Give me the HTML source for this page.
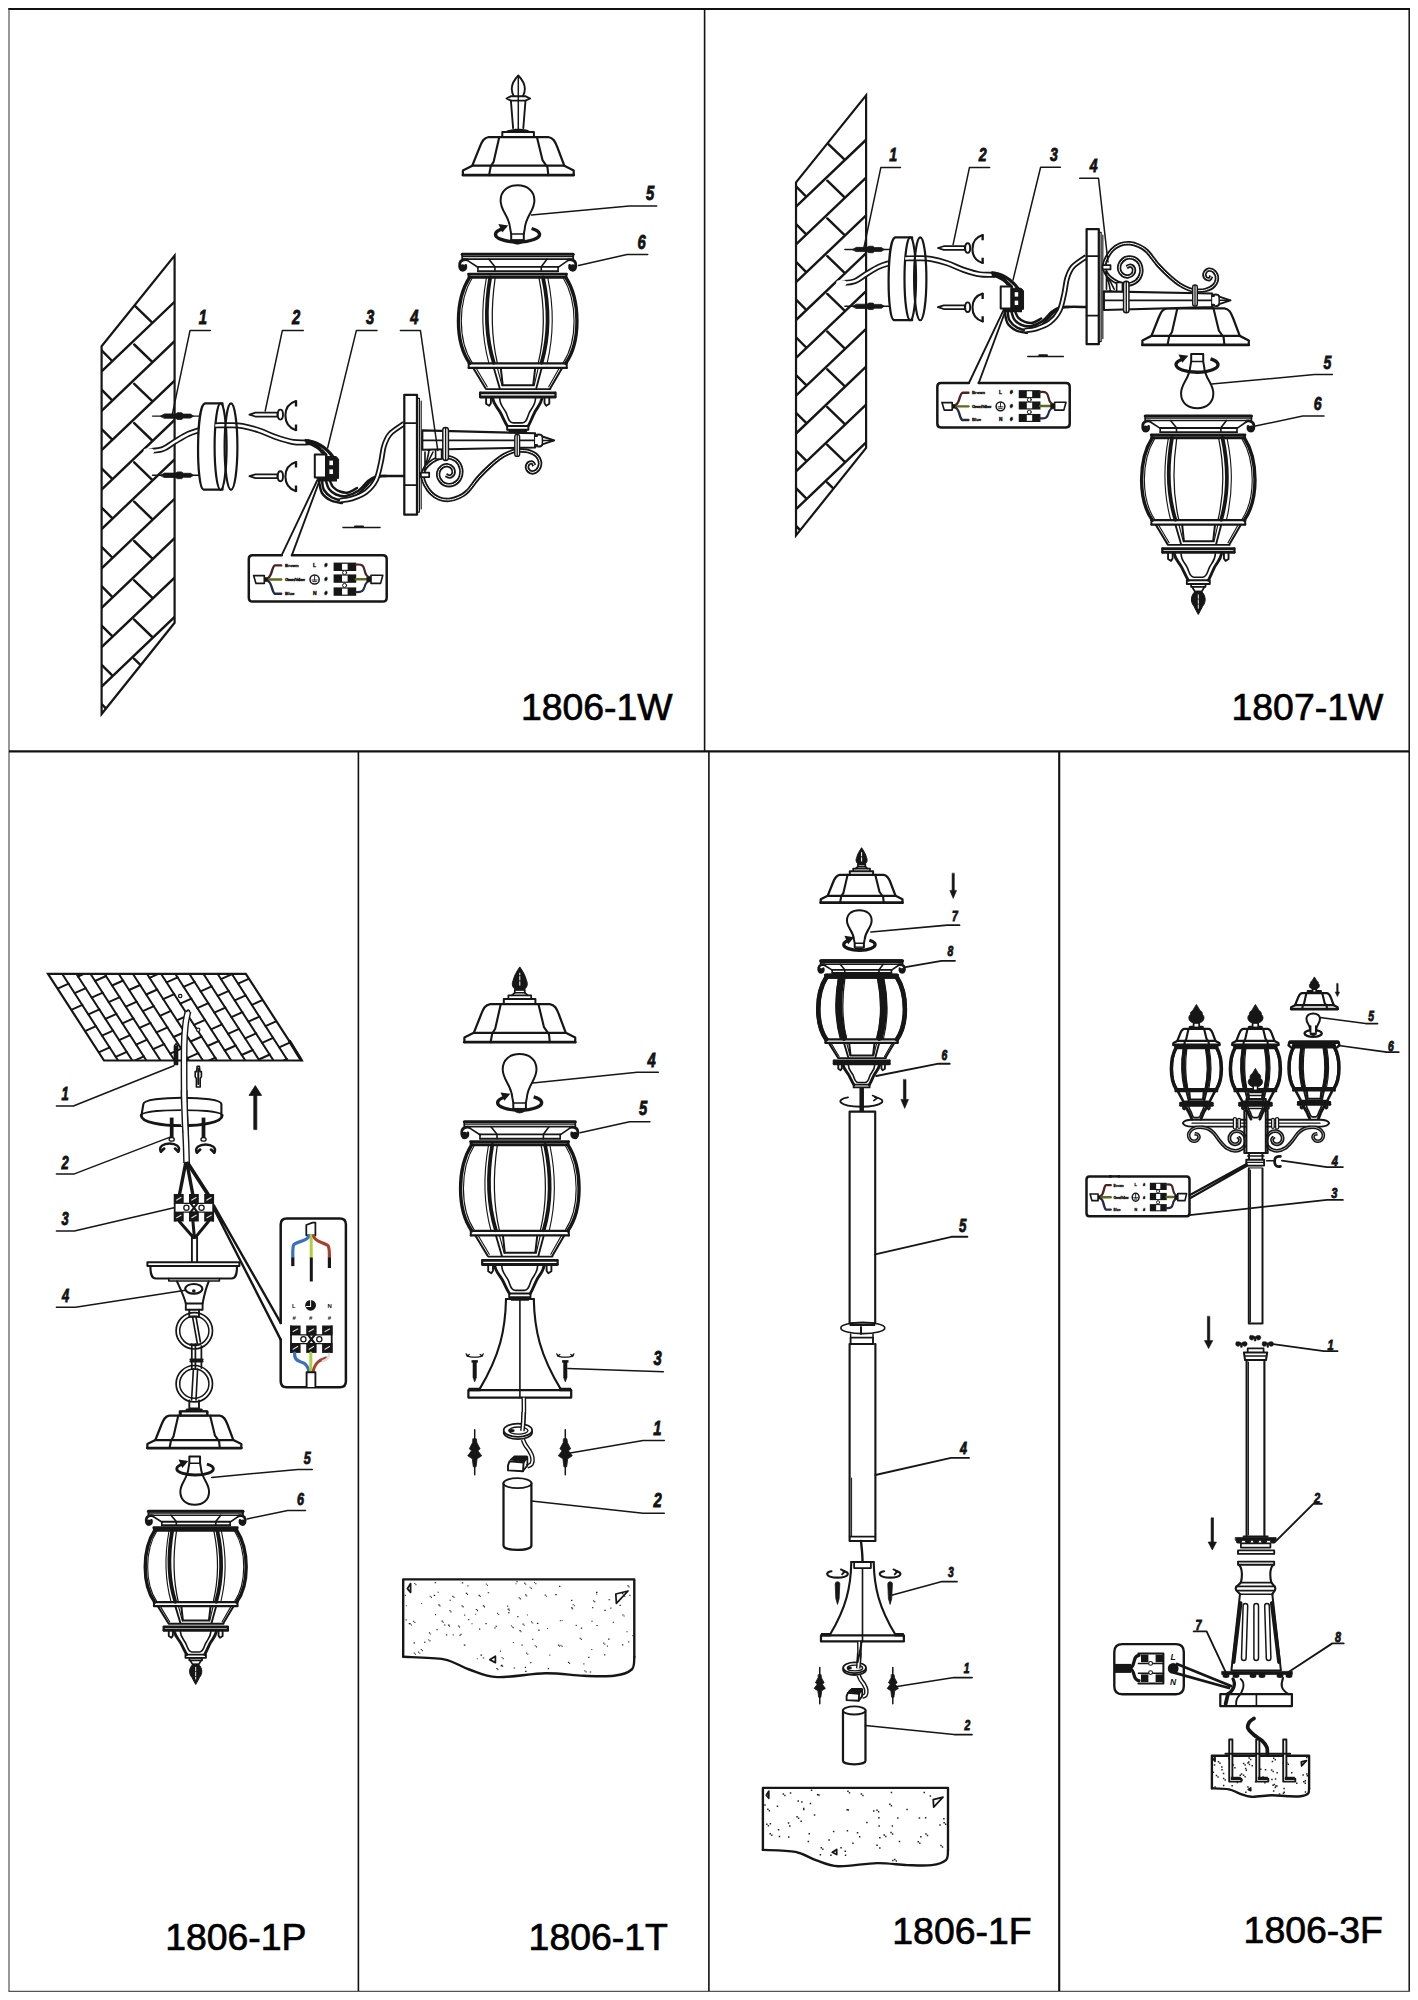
<!DOCTYPE html>
<html><head><meta charset="utf-8"><title>1806 / 1807 assembly</title>
<style>
html,body{margin:0;padding:0;background:#fff}
svg{display:block}
path,ellipse,circle,rect,polygon{vector-effect:non-scaling-stroke}
.m{font-family:"Liberation Sans",sans-serif;font-size:37.4px;fill:#000}
.n{font-family:"Liberation Sans",sans-serif;font-weight:bold;font-style:italic;fill:#111}
.t{font-family:"Liberation Sans",sans-serif;font-weight:bold;fill:#111}
</style></head><body>
<svg width="1418" height="2000" viewBox="0 0 1418 2000">
<defs>
<g id="lbody"><path d="M-55.5 0H55.5" stroke-width="3.00" /><path d="M-55.5 0V4.6M55.5 0V4.6" stroke-width="1.75" /><path d="M-55 2.4H55" stroke-width="1.25" /><path d="M-54.5 4.8H54.5" stroke-width="1.62" /><g transform="scale(-1,1)" ><path d="M50.5 5.5C53 5 57.5 5.5 58 9.5C58.4 13 57.5 16 55 16C52.5 16 51.5 14 52 11" stroke-width="2.75" /><circle cx="55.2" cy="12.6" r="2.6" fill="#161616" stroke="none"/></g><g transform="scale(1,1)" ><path d="M50.5 5.5C53 5 57.5 5.5 58 9.5C58.4 13 57.5 16 55 16C52.5 16 51.5 14 52 11" stroke-width="2.75" /><circle cx="55.2" cy="12.6" r="2.6" fill="#161616" stroke="none"/></g><path d="M-50.4 6.1L-39.8 13M50.4 6.1L40.4 13" stroke-width="1.62" /><path d="M-29 4.8L-22.8 12.4V16.9M29.4 4.8L23.6 12.4V16.9" stroke-width="1.62" /><path d="M-39.8 12.6H40.4M-39.8 16.9H40.4" stroke-width="1.88" /><path d="M-39.8 12.6V17M40.4 12.6V17" stroke-width="1.62" /><path d="M-49.2 19.8H48.8" stroke-width="2.75" /><path d="M-48 22.9H47.8" stroke-width="3.00" /><path d="M-49.2 19.8V23M48.8 19.8V23" stroke-width="1.75" /><path d="M-48 22.8C-63 46 -63 88 -48 109" stroke-width="3.38" /><path d="M48 22.8C63 46 63 88 48 109" stroke-width="3.38" /><path d="M-45.4 23.5C-60 47 -60 87 -45.4 108.5" stroke-width="1.12" /><path d="M45.4 23.5C60 47 60 87 45.4 108.5" stroke-width="1.12" /><path d="M-27.5 23C-32.5 52 -32.8 80 -23.9 108.5" stroke-width="3.75" /><path d="M-31.4 24C-36.4 52 -36.6 80 -28.9 108.5" stroke-width="1.12" /><path d="M-22.6 24C-26.6 52 -27 80 -20.4 108.5" stroke-width="1.25" /><path d="M25.3 23C31.5 52 32 80 23.9 108.5" stroke-width="3.75" /><path d="M21.4 24C27 52 27.4 80 20.6 108.5" stroke-width="1.25" /><path d="M30.2 24C36 52 36.3 80 29.5 108.5" stroke-width="1.12" /><path d="M-49 109H49M-49 113.6H49" stroke-width="2.25" /><path d="M-49 109V113.6M49 109V113.6" stroke-width="2.00" /><path d="M-44.3 114L-32.2 134M44.3 114L32.6 134" stroke-width="2.00" /><path d="M-41.5 114L-30.5 132.5M41.5 114L31 132.5" stroke-width="1.12" /><path d="M-23.8 114L-18 134M23.9 114L18.6 134" stroke-width="1.88" /><path d="M-20.2 114L-15.6 131.5M20.4 114L16.4 131.5" stroke-width="1.12" /><path d="M-16.8 114.5L-15 131H15.5L17.4 114.5" stroke-width="2.00" /><path d="M-31.5 134.8H32.6" stroke-width="1.88" /><path d="M-37 138.6H37.2" stroke-width="2.75" /><path d="M-37 142.6H37.2" stroke-width="3.00" /><path d="M-37.6 138.4V142.8M37.8 138.4V142.8" stroke-width="2.25" /></g><g id="lmain"><path d="M-49.2 19.8H48.8" stroke-width="2.75" /><path d="M-48 22.9H47.8" stroke-width="3.00" /><path d="M-49.2 19.8V23M48.8 19.8V23" stroke-width="1.75" /><path d="M-48 22.8C-63 46 -63 88 -48 109" stroke-width="3.38" /><path d="M48 22.8C63 46 63 88 48 109" stroke-width="3.38" /><path d="M-45.4 23.5C-60 47 -60 87 -45.4 108.5" stroke-width="1.12" /><path d="M45.4 23.5C60 47 60 87 45.4 108.5" stroke-width="1.12" /><path d="M-27.5 23C-32.5 52 -32.8 80 -23.9 108.5" stroke-width="3.75" /><path d="M-31.4 24C-36.4 52 -36.6 80 -28.9 108.5" stroke-width="1.12" /><path d="M-22.6 24C-26.6 52 -27 80 -20.4 108.5" stroke-width="1.25" /><path d="M25.3 23C31.5 52 32 80 23.9 108.5" stroke-width="3.75" /><path d="M21.4 24C27 52 27.4 80 20.6 108.5" stroke-width="1.25" /><path d="M30.2 24C36 52 36.3 80 29.5 108.5" stroke-width="1.12" /><path d="M-49 109H49M-49 113.6H49" stroke-width="2.25" /><path d="M-49 109V113.6M49 109V113.6" stroke-width="2.00" /><path d="M-44.3 114L-32.2 134M44.3 114L32.6 134" stroke-width="2.00" /><path d="M-41.5 114L-30.5 132.5M41.5 114L31 132.5" stroke-width="1.12" /><path d="M-23.8 114L-18 134M23.9 114L18.6 134" stroke-width="1.88" /><path d="M-20.2 114L-15.6 131.5M20.4 114L16.4 131.5" stroke-width="1.12" /><path d="M-16.8 114.5L-15 131H15.5L17.4 114.5" stroke-width="2.00" /><path d="M-31.5 134.8H32.6" stroke-width="1.88" /><path d="M-37 138.6H37.2" stroke-width="2.75" /><path d="M-37 142.6H37.2" stroke-width="3.00" /><path d="M-37.6 138.4V142.8M37.8 138.4V142.8" stroke-width="2.25" /></g><g id="lcup"><path d="M-31.6 144V149.5L-28.5 151.5L-26.8 149V144" stroke-width="1.88" /><path d="M31.6 144V149.5L28.5 151.5L26.8 149V144" stroke-width="1.88" /><path d="M-25 144.2C-24 150 -21 152 -17.5 158C-14.5 163.5 -13 168 -10.4 171.7" stroke-width="2.88" /><path d="M24.2 144.2C23.2 150 20.4 152 17 158C14.2 163.5 12.8 168 10.5 171.7" stroke-width="2.88" /><path d="M-18 144.2C-17.8 151 -14 153.5 -11.5 158.5C-9.5 163 -9 168.6 -4.5 168.6H4.5C9 168.6 9.5 163 11.5 158.5C14 153.5 17.6 151 17.8 144.2" stroke-width="1.62" /></g><g id="lheavy"><path d="M-48 22.8C-62.5 46 -62.5 88 -48 109M48 22.8C62.5 46 62.5 88 48 109" stroke-width="4.25" /><path d="M-27.5 23C-32.5 52 -32.8 80 -23.9 108.5M25.3 23C31.5 52 32 80 23.9 108.5" stroke-width="6.75" stroke-linecap="butt"/><path d="M-49 21.3H48.6" stroke-width="5.25" stroke-linecap="butt"/><path d="M-37 140.6H37.2" stroke-width="4.75" stroke-linecap="butt"/><path d="M-55.5 0.6H55.5" stroke-width="3.75" stroke-linecap="butt"/></g><g id="lbaseB"><path d="M-10.6 171.7H10.7V175.5H-10.6Z" stroke-width="1.88" /><path d="M-9.6 175.5H9.8L9 179H-8.8Z" fill="#161616" stroke="none"/></g><g id="lbaseF"><path d="M-12 171.7H12V175.6H-12Z" stroke-width="1.88" /><path d="M-7.5 175.6H7.5V178.6H-7.5Z" stroke-width="1.75" /><path d="M-6.5 178.6L-3.6 183.5H3.6L6.5 178.6" stroke-width="1.75" /><path d="M-3.4 183.5C-8.5 188 -8 195 -4.5 199C-3 202 -1.5 205 0 207.5C1.5 205 3 202 4.5 199C8 195 8.5 188 3.4 183.5Z" fill="#161616" stroke="#161616" stroke-width="1"/><path d="M0 187V201" stroke="#fff" stroke-width="0.9" stroke-dasharray="3.5 1.5"/></g><g id="roof"><path d="M-55.4 0H55.4" stroke-width="2.75" /><path d="M-55.4 0V-4.6L-46 -9.4H46L55.4 -4.6V0" stroke-width="2.25" /><path d="M-46 -9.4L-38.6 -28C-36.4 -33.6 -34.6 -37.4 -29.6 -38.1H30C35 -37.4 36.8 -33.6 39 -28L46 -9.4" stroke-width="2.25" /><path d="M-19 -38.1L-24.6 -13.5L-27.6 -8.6L-29.2 0" stroke-width="2.12" /><path d="M18.6 -38.1L24.2 -15L29.2 -7.8L30 0" stroke-width="2.12" /><path d="M-16 -38.4V-43.1H15.6V-38.4" stroke-width="2.00" /></g><g id="spire"><path d="M-12.8 -43.1C-10 -47.6 10 -47.6 12.6 -43.1Z" fill="#161616" stroke="none"/><path d="M-5.2 -47L-7.4 -74.5M5 -47L7.2 -74.5" stroke-width="1.88" /><path d="M0 -46V-99" stroke-width="1.50" /><path d="M-7.4 -74.5L-11.8 -76.6L-7.6 -78.8H7.4L11.8 -76.6L7.2 -74.5Z" stroke-width="1.88" /><path d="M-4.6 -79C-8.4 -86 -6.4 -93 0 -99.6C6.4 -93 8.4 -86 4.6 -79" stroke-width="1.88" /></g><g id="acorn"><path d="M-11.4 -43.1V-46.8H11.4V-43.1" stroke-width="1.75" /><path d="M-8 -46.8L-5.2 -49.4H5.2L8 -46.8" stroke-width="1.62" /><path d="M-5 -49.4V-52.4H5V-49.4" stroke-width="1.75" /><path d="M-4.4 -52.6C-8.4 -55.5 -7.8 -59.5 -6.6 -62C-5.6 -66.5 -3 -71 0 -75.3C3 -71 5.6 -66.5 6.6 -62C7.8 -59.5 8.4 -55.5 4.4 -52.6Z" fill="#161616" stroke="#161616" stroke-width="1"/><path d="M0 -57V-69" stroke="#fff" stroke-width="1" stroke-dasharray="3.4 1.8"/></g><g id="bulb"><path d="M-6.3 -4.5L-6.3 -10.4L-7.2 -15.4C-8.2 -29 -16.9 -33 -16.9 -44C-16.9 -54 -9.4 -59.2 0 -59.2C9.4 -59.2 16.9 -54 16.9 -44C16.9 -33 8.2 -29 7.2 -15.4L6.3 -10.4V-4.5" stroke-width="2.00" fill="#fff"/><path d="M-6.3 -10.4H6.3" stroke-width="1.50" /><path d="M-6.3 -4.5C-5 1 5 1 6.3 -4.5Z" fill="#161616" stroke="#161616" stroke-width="1"/></g><g id="bulbi"><path d="M-6.3 -2.5L-6.3 -10.4L-7.2 -15.4C-8.2 -29 -16.9 -33 -16.9 -44C-16.9 -54 -9.4 -59.2 0 -59.2C9.4 -59.2 16.9 -54 16.9 -44C16.9 -33 8.2 -29 7.2 -15.4L6.3 -10.4V-2.5Z" stroke-width="2.00" fill="#fff"/><path d="M-6.3 -10.4H6.3" stroke-width="1.50" /></g><clipPath id="wallclip"><polygon points="101.6,346.2 174.6,255.6 174.6,622.8 101.6,714"/></clipPath>
</defs>
<rect width="1418" height="2000" fill="#fff"/>
<g fill="none" stroke="#111" stroke-linecap="butt"><path d="M8.2 9H1410" stroke-width="1.8"/><path d="M9 9V1991.5" stroke-width="1.1" stroke="#444"/><path d="M1409.2 9V1992" stroke-width="1.5"/><path d="M8.5 1991.3H1410" stroke-width="1.2" stroke="#555"/><path d="M9 751.4H1409" stroke-width="2.2"/><path d="M704.6 9V751.4" stroke-width="1.6"/><path d="M358.4 751.4V1991" stroke-width="1.6"/><path d="M708.9 751.4V1991" stroke-width="1.6"/><path d="M1059.2 751.4V1991" stroke-width="2.1"/></g>
<text x="520.9" y="720.4" class="m" stroke="#000" stroke-width="0.7">1806-1W</text>
<text x="1231.5" y="720.4" class="m" stroke="#000" stroke-width="0.7">1807-1W</text>
<text x="165.2" y="1949.8" class="m" stroke="#000" stroke-width="0.7">1806-1P</text>
<text x="528.6" y="1950.3" class="m" stroke="#000" stroke-width="0.7">1806-1T</text>
<text x="892.3" y="1944.4" class="m" stroke="#000" stroke-width="0.7">1806-1F</text>
<text x="1243.6" y="1943.2" class="m" stroke="#000" stroke-width="0.7">1806-3F</text>
<g fill="none" stroke="#161616" stroke-linecap="round" stroke-linejoin="round">
<g clip-path="url(#wallclip)"><path d="M101.6 371.4L174.6 301.8M101.6 410.8L174.6 341.2M101.6 450.2L174.6 380.6M101.6 489.6L174.6 420.0M101.6 529.0L174.6 459.4M101.6 568.4L174.6 498.8M101.6 607.8L174.6 538.2M101.6 647.2L174.6 577.6M101.6 686.6L174.6 617.0M134.2 305.2L152.2 322.6M101.6 350.4L112.2 361.0M134.2 344.5L152.2 361.9M101.6 389.7L112.2 400.3M134.2 383.8L152.2 401.2M101.6 429.0L112.2 439.6M134.2 423.1L152.2 440.5M101.6 468.3L112.2 478.9M134.2 462.4L152.2 479.8M101.6 507.6L112.2 518.2M134.2 501.7L152.2 519.1M101.6 546.9L112.2 557.5M134.2 541.0L152.2 558.4M101.6 586.2L112.2 596.8M134.2 580.3L152.2 597.7M101.6 625.5L112.2 636.1M134.2 619.6L152.2 637.0M101.6 664.8L112.2 675.4M134.2 658.9L152.2 676.3M101.6 704.1L112.2 714.7" stroke-width="2.44" /></g><polygon points="101.6,346.2 174.6,255.6 174.6,622.8 101.6,714" stroke-width="2.2" stroke-linejoin="miter"/><path d="M149.2 451.1C151.5 450.8 158.6 450.7 162.8 449.1C167.0 447.6 170.4 444.3 174.6 441.8C178.8 439.3 184.0 435.9 188.2 434.0C192.3 432.1 197.6 430.8 199.5 430.1" stroke-width="5.90" stroke-linecap="butt"/><path d="M149.2 451.1C151.5 450.8 158.6 450.7 162.8 449.1C167.0 447.6 170.4 444.3 174.6 441.8C178.8 439.3 184.0 435.9 188.2 434.0C192.3 432.1 197.6 430.8 199.5 430.1" stroke="#fff" stroke-width="2.50" stroke-linecap="butt"/><path d="M146.5 451.4H151" stroke="#fff" stroke-width="6"/><path d="M152.5 416.1H205.5" stroke-width="1.38" /><path d="M160.5 416.1L164.5 413.90000000000003H175.5L177.5 412.70000000000005H181.5L183.5 414.1H190.5L193.5 416.1L190.5 418.1H183.5L181.5 419.5H177.5L175.5 418.3H164.5Z" fill="#161616" stroke="#161616" stroke-width="0.8"/><path d="M152.5 475.3H205.5" stroke-width="1.38" /><path d="M160.5 475.3L164.5 473.1H175.5L177.5 471.90000000000003H181.5L183.5 473.3H190.5L193.5 475.3L190.5 477.3H183.5L181.5 478.7H177.5L175.5 477.5H164.5Z" fill="#161616" stroke="#161616" stroke-width="0.8"/><path d="M205 403.4C196 405 196 488 203.5 489.7H222.5V403.4Z" stroke-width="2.25" fill="#fff"/><ellipse cx="220.6" cy="446.6" rx="6" ry="43.2" stroke-width="2.2" fill="#fff"/><path d="M215.3 425.4C217.8 425.4 225.5 425.1 230.0 425.2C234.5 425.3 237.4 425.1 242.3 426.0C247.2 426.9 253.7 428.6 259.3 430.5C264.9 432.4 270.6 435.4 276.2 437.3C281.8 439.2 287.6 441.1 293.1 442.0C298.6 442.9 306.4 442.3 309.0 442.4" stroke-width="5.90" stroke-linecap="butt"/><path d="M215.3 425.4C217.8 425.4 225.5 425.1 230.0 425.2C234.5 425.3 237.4 425.1 242.3 426.0C247.2 426.9 253.7 428.6 259.3 430.5C264.9 432.4 270.6 435.4 276.2 437.3C281.8 439.2 287.6 441.1 293.1 442.0C298.6 442.9 306.4 442.3 309.0 442.4" stroke="#fff" stroke-width="2.50" stroke-linecap="butt"/><ellipse cx="231" cy="446.6" rx="6.4" ry="43.2" stroke-width="2.2"/><path d="M220.6 403.4V489.8" stroke-width="0.01" /><path d="M249.4 414.6L255.4 412.70000000000005H277.4V416.5H255.4Z" stroke-width="1.75" fill="#fff"/><ellipse cx="280.4" cy="414.6" rx="2.6" ry="5" stroke-width="1.9" fill="#fff"/><path d="M249.4 476.2L255.4 474.3H277.4V478.09999999999997H255.4Z" stroke-width="1.75" fill="#fff"/><ellipse cx="280.4" cy="476.2" rx="2.6" ry="5" stroke-width="1.9" fill="#fff"/><path d="M296 401.0C287.5 403.6 285.4 410.6 285.4 415.6C285.4 420.6 287.5 427.6 296 430.20000000000005" stroke-width="2.12" /><path d="M296 400.6V406.6M296 430.6V424.6" stroke-width="2.38" stroke-linecap="butt"/><path d="M296 462.0C287.5 464.6 285.4 471.6 285.4 476.6C285.4 481.6 287.5 488.6 296 491.20000000000005" stroke-width="2.12" /><path d="M296 461.6V467.6M296 491.6V485.6" stroke-width="2.38" stroke-linecap="butt"/><path d="M306 440.5C313 441 318 445 322 452" stroke-width="3.25" /><path d="M307 443C313 444 321 449 326 455" stroke-width="3.25" /><path d="M309 441C318 442 330 450 336 462" stroke-width="3.25" /><path d="M314.8 454.6H326V477.6H314.8Z" stroke-width="2.00" fill="#fff"/><path d="M326 456.5H336L338.6 459V478.4H326Z" fill="#161616" stroke="#161616" stroke-width="1"/><rect x="329.4" y="460.6" width="3.6" height="4.6" fill="#fff" stroke="none"/><rect x="329.4" y="469.4" width="3.6" height="4.6" fill="#fff" stroke="none"/><path d="M316 477.6H337V481.5H319Z" fill="#161616" stroke="none"/><path d="M322.0 480.0C322.3 481.7 322.3 487.1 324.0 490.0C325.7 492.9 328.8 495.8 332.0 497.5C335.2 499.2 339.0 500.2 343.0 500.0C347.0 499.8 352.2 498.3 356.0 496.0C359.8 493.7 363.0 489.0 366.0 486.0C369.0 483.0 371.0 479.7 374.0 478.0C377.0 476.3 379.0 476.3 384.0 476.0C389.0 475.7 400.7 476.0 404.0 476.0" stroke-width="2.50" /><path d="M326.0 481.0C326.5 482.3 327.3 486.8 329.0 489.0C330.7 491.2 333.2 493.3 336.0 494.5C338.8 495.7 342.3 496.6 346.0 496.0C349.7 495.4 354.3 493.5 358.0 491.0C361.7 488.5 365.0 483.4 368.0 481.0C371.0 478.6 373.0 477.3 376.0 476.5C379.0 475.7 384.3 476.1 386.0 476.0" stroke-width="2.50" /><path d="M330.0 481.0C330.5 482.0 331.3 485.2 333.0 487.0C334.7 488.8 337.5 490.6 340.0 491.5C342.5 492.4 345.2 493.1 348.0 492.5C350.8 491.9 355.5 488.8 357.0 488.0" stroke-width="2.50" /><path d="M319.0 481.0C319.5 483.0 320.0 489.8 322.0 493.0C324.0 496.2 327.7 498.8 331.0 500.5C334.3 502.2 340.2 502.6 342.0 503.0" stroke-width="2.50" /><path d="M340.0 500.5C342.0 500.2 347.7 499.9 352.0 498.5C356.3 497.1 362.0 495.1 366.0 492.0C370.0 488.9 373.5 485.0 376.0 480.0C378.5 475.0 379.7 467.7 381.0 462.0C382.3 456.3 382.5 450.7 384.0 446.0C385.5 441.3 386.7 437.7 390.0 434.0C393.3 430.3 401.7 425.3 404.0 423.6" stroke-width="5.60" stroke-linecap="butt"/><path d="M340.0 500.5C342.0 500.2 347.7 499.9 352.0 498.5C356.3 497.1 362.0 495.1 366.0 492.0C370.0 488.9 373.5 485.0 376.0 480.0C378.5 475.0 379.7 467.7 381.0 462.0C382.3 456.3 382.5 450.7 384.0 446.0C385.5 441.3 386.7 437.7 390.0 434.0C393.3 430.3 401.7 425.3 404.0 423.6" stroke="#fff" stroke-width="2.00" stroke-linecap="butt"/><path d="M343 527.6H380" stroke-width="1.50" /><path d="M355 526.4H363" stroke-width="2.00" /><path d="M317.4 480L281.7 555.2M319.4 481L291.9 555.2" stroke-width="1.88" /><path d="M281.7 555.2H252.6Q248.8 555.2 248.8 559V597.7Q248.8 601.5 252.6 601.5H382.9Q386.7 601.5 386.7 597.7V559Q386.7 555.2 382.9 555.2H291.9" stroke-width="2.50" /><path d="M253.6 575.6H264.3V583.4H256Z" stroke-width="1.62" fill="#fff"/><rect x="264.3" y="577.2" width="5" height="4.6" fill="#161616" stroke="none"/><path d="M268.5 577.5C272 576 272 566 275 565.4H281.2" stroke="#4a2422" stroke-width="2.4"/><path d="M269 579.5H281.2" stroke="#5d6b1c" stroke-width="2.4"/><path d="M268.5 581.5C272 583 272 593 275 593.8H281.2" stroke="#222a48" stroke-width="2.4"/><text x="285" y="567" class="t" font-size="4.4" stroke="#111" stroke-width="0.35">Brown</text><text x="285" y="581.2" class="t" font-size="4.4" stroke="#111" stroke-width="0.35" textLength="20">Green/Yellow</text><text x="285" y="595" class="t" font-size="4.4" stroke="#111" stroke-width="0.35">Blue</text><text x="313" y="566.8" class="t" font-size="5" stroke="#111" stroke-width="0.4">L</text><text x="313" y="595" class="t" font-size="5" stroke="#111" stroke-width="0.4">N</text><circle cx="314.6" cy="579.5" r="4.6" stroke-width="1.5"/><path d="M314.6 576V580M312 580H317.2M312.8 581.6H316.4" stroke-width="0.9"/><text x="324.5" y="566.8" class="t" font-size="5" stroke="#111" stroke-width="0.4">#</text><text x="324.5" y="581" class="t" font-size="5" stroke="#111" stroke-width="0.4">#</text><text x="324.5" y="595" class="t" font-size="5" stroke="#111" stroke-width="0.4">#</text><rect x="333.6" y="562.6" width="22.6" height="8.4" fill="#161616" stroke="none"/><rect x="342" y="563.8000000000001" width="5.6" height="6" fill="#fff" stroke="none"/><rect x="333.6" y="574.4" width="22.6" height="8.4" fill="#161616" stroke="none"/><rect x="342" y="575.6" width="5.6" height="6" fill="#fff" stroke="none"/><rect x="333.6" y="587.4" width="22.6" height="8.4" fill="#161616" stroke="none"/><rect x="342" y="588.6" width="5.6" height="6" fill="#fff" stroke="none"/><circle cx="344.6" cy="572.6" r="2" fill="#fff" stroke-width="1"/><circle cx="344.6" cy="585.4" r="2" fill="#fff" stroke-width="1"/><path d="M356 564.6C363 564 363.5 566 364.5 570C365.5 575 367 577 370 577.4" stroke="#4a2422" stroke-width="2.2"/><path d="M356 579.2H370" stroke="#5d6b1c" stroke-width="2.4"/><path d="M356 592C363 592.5 363.5 590 364.5 587C365.5 583 367 581.4 370 581" stroke="#222a48" stroke-width="2.2"/><rect x="366.5" y="577" width="4.6" height="4.8" fill="#161616" stroke="none"/><path d="M371 575.2H382.8L380.6 583.4H371Z" stroke-width="1.62" fill="#fff"/><path d="M404.3 394.8H417V514.7H404.3Z" stroke-width="2.25" fill="#fff"/><path d="M417 398.3H419.4V512H417" stroke-width="1.25" /><path d="M421.2 401V509" stroke-width="1.12" /><path d="M404.3 423H417M404.3 485H417" stroke-width="1.75" /><path d="M210.4 330.6L190 330.6L172.1 415.3" stroke-width="1.50" /><text transform="translate(202.8 324) scale(0.74 1)" class="n" font-size="20" text-anchor="middle" stroke="#161616" stroke-width="0.9" stroke-linejoin="miter">1</text><path d="M303.3 330.6L282.3 330.6L265.2 411" stroke-width="1.50" /><text transform="translate(296 324) scale(0.74 1)" class="n" font-size="20" text-anchor="middle" stroke="#161616" stroke-width="0.9" stroke-linejoin="miter">2</text><path d="M377 330.4L356.4 330.4L327.6 448" stroke-width="1.50" /><text transform="translate(370.2 324) scale(0.74 1)" class="n" font-size="20" text-anchor="middle" stroke="#161616" stroke-width="0.9" stroke-linejoin="miter">3</text><path d="M517.5 450.5C516.5 450.7 513.9 450.8 511.2 451.9C508.5 453.0 504.8 454.5 501.3 456.9C497.8 459.2 493.8 462.6 490.0 466.0C486.2 469.4 482.5 473.1 478.7 477.3C474.9 481.5 470.7 488.1 467.4 491.4C464.1 494.7 462.1 495.7 459.0 497.1C455.9 498.5 452.4 499.7 449.1 499.9C445.8 500.1 442.2 499.7 439.2 498.5C436.1 497.3 433.1 495.2 430.8 492.8C428.5 490.4 426.4 486.9 425.1 484.4C423.8 481.8 423.0 479.8 422.8 477.5C422.6 475.2 422.8 472.8 423.7 470.7C424.6 468.6 425.9 466.6 428.0 464.6C430.1 462.7 433.3 460.3 436.4 459.0C439.4 457.7 443.0 456.7 446.3 456.9C449.6 457.1 453.7 458.4 456.2 460.4C458.7 462.4 460.5 465.8 461.1 468.9C461.7 471.9 461.0 476.1 459.7 478.7C458.4 481.3 455.8 483.4 453.3 484.4C450.8 485.3 447.2 485.3 444.9 484.4C442.5 483.4 440.3 480.8 439.2 478.7C438.1 476.6 438.0 473.7 438.5 471.7C439.0 469.7 440.6 467.8 442.1 466.7C443.6 465.6 445.9 465.1 447.7 465.3C449.4 465.6 451.7 466.8 452.6 468.2C453.5 469.6 453.8 472.4 453.3 473.8C452.8 475.2 451.0 476.4 449.8 476.6C448.6 476.8 446.6 475.3 446.0 475.0" stroke-width="4.40" stroke-linecap="butt"/><path d="M517.5 450.5C516.5 450.7 513.9 450.8 511.2 451.9C508.5 453.0 504.8 454.5 501.3 456.9C497.8 459.2 493.8 462.6 490.0 466.0C486.2 469.4 482.5 473.1 478.7 477.3C474.9 481.5 470.7 488.1 467.4 491.4C464.1 494.7 462.1 495.7 459.0 497.1C455.9 498.5 452.4 499.7 449.1 499.9C445.8 500.1 442.2 499.7 439.2 498.5C436.1 497.3 433.1 495.2 430.8 492.8C428.5 490.4 426.4 486.9 425.1 484.4C423.8 481.8 423.0 479.8 422.8 477.5C422.6 475.2 422.8 472.8 423.7 470.7C424.6 468.6 425.9 466.6 428.0 464.6C430.1 462.7 433.3 460.3 436.4 459.0C439.4 457.7 443.0 456.7 446.3 456.9C449.6 457.1 453.7 458.4 456.2 460.4C458.7 462.4 460.5 465.8 461.1 468.9C461.7 471.9 461.0 476.1 459.7 478.7C458.4 481.3 455.8 483.4 453.3 484.4C450.8 485.3 447.2 485.3 444.9 484.4C442.5 483.4 440.3 480.8 439.2 478.7C438.1 476.6 438.0 473.7 438.5 471.7C439.0 469.7 440.6 467.8 442.1 466.7C443.6 465.6 445.9 465.1 447.7 465.3C449.4 465.6 451.7 466.8 452.6 468.2C453.5 469.6 453.8 472.4 453.3 473.8C452.8 475.2 451.0 476.4 449.8 476.6C448.6 476.8 446.6 475.3 446.0 475.0" stroke="#fff" stroke-width="1.00" stroke-linecap="butt"/><path d="M519.6 450.5C521.0 450.6 525.3 450.4 528.1 451.2C530.9 452.0 534.6 453.5 536.6 455.5C538.6 457.5 540.0 460.7 540.1 463.2C540.2 465.7 538.7 468.8 537.3 470.3C535.9 471.8 533.2 472.6 531.6 472.4C530.0 472.2 528.0 470.3 527.4 468.9C526.8 467.5 527.3 465.0 528.1 463.9C528.9 462.8 531.3 462.2 532.3 462.5C533.3 462.8 533.9 465.1 534.2 465.6" stroke-width="4.40" stroke-linecap="butt"/><path d="M519.6 450.5C521.0 450.6 525.3 450.4 528.1 451.2C530.9 452.0 534.6 453.5 536.6 455.5C538.6 457.5 540.0 460.7 540.1 463.2C540.2 465.7 538.7 468.8 537.3 470.3C535.9 471.8 533.2 472.6 531.6 472.4C530.0 472.2 528.0 470.3 527.4 468.9C526.8 467.5 527.3 465.0 528.1 463.9C528.9 462.8 531.3 462.2 532.3 462.5C533.3 462.8 533.9 465.1 534.2 465.6" stroke="#fff" stroke-width="1.00" stroke-linecap="butt"/><path d="M420.9 472.6H429.2V477H420.9Z" stroke-width="1.75" fill="#fff"/><path d="M425 452L425 470M429 450.4C428 458 426 464 424 470M433 452L428 462" stroke-width="1.62" /><path d="M435.6 450.5V459H441.6V450.5" stroke-width="1.62" fill="#fff"/><rect x="427.2" y="447.6" width="3.4" height="3.2" fill="#161616" stroke="none"/><path d="M422.3 430.4L535.1 433.3V447.5L422.3 449.8Z" stroke-width="2.12" fill="#fff"/><path d="M422.3 440.4H535.1" stroke-width="1.75" /><path d="M535.1 436H537V434.6C541 434 542 435.2 542.4 436.5L554.2 440.4L542.4 444.4C542 445.8 541 447 537 446.4V445H535.1" stroke-width="1.88" fill="#fff"/><path d="M542.4 436.5V444.4M542.4 440.4H554" stroke-width="1.50" /><rect x="442.8" y="427.4" width="5.6" height="33" rx="2.6" stroke-width="1.5" fill="#fff"/><path d="M445.6 428V460" stroke-width="1.38" /><rect x="514.8" y="434.4" width="4.8" height="22" rx="2.2" stroke-width="1.4" fill="#fff"/><path d="M517.2 435V456" stroke-width="1.25" /><path d="M400.4 330.4L420.4 330.4L437.8 450.5" stroke-width="1.50" /><text transform="translate(414.4 324) scale(0.74 1)" class="n" font-size="20" text-anchor="middle" stroke="#161616" stroke-width="0.9" stroke-linejoin="miter">4</text><use href="#lbody" transform="translate(517.7 254.3)" /><use href="#lcup" transform="translate(517.7 254.3)" /><use href="#lbaseB" transform="translate(517.7 254.3)" /><use href="#roof" transform="translate(518.3 175.1)" /><use href="#spire" transform="translate(518.3 175.1)" /><use href="#bulb" transform="translate(517.5 244.5)" /><g transform="translate(517.5 234.3)" ><path d="M-14.7 -5.6A22 7.6 0 1 0 14.1 -5.8" stroke-width="3.38" stroke-linecap="butt"/><path d="M-19.1 -10.2L-9.3 -8.8L-15.3 -1.8Z" fill="#161616" stroke="none"/></g><path d="M531.4 214.9L629.3 205.9L656.7 205.9" stroke-width="1.50" /><text transform="translate(650 199.6) scale(0.74 1)" class="n" font-size="20" text-anchor="middle" stroke="#161616" stroke-width="0.9" stroke-linejoin="miter">5</text><path d="M578.5 265.5L627 254.5L647.7 254.5" stroke-width="1.50" /><text transform="translate(641.6 248.7) scale(0.74 1)" class="n" font-size="20" text-anchor="middle" stroke="#161616" stroke-width="0.9" stroke-linejoin="miter">6</text>
<g transform="translate(866.1 95.4) scale(0.96) translate(-174.6 -255.6)" ><g clip-path="url(#wallclip)"><path d="M101.6 371.4L174.6 301.8M101.6 410.8L174.6 341.2M101.6 450.2L174.6 380.6M101.6 489.6L174.6 420.0M101.6 529.0L174.6 459.4M101.6 568.4L174.6 498.8M101.6 607.8L174.6 538.2M101.6 647.2L174.6 577.6M101.6 686.6L174.6 617.0M134.2 305.2L152.2 322.6M101.6 350.4L112.2 361.0M134.2 344.5L152.2 361.9M101.6 389.7L112.2 400.3M134.2 383.8L152.2 401.2M101.6 429.0L112.2 439.6M134.2 423.1L152.2 440.5M101.6 468.3L112.2 478.9M134.2 462.4L152.2 479.8M101.6 507.6L112.2 518.2M134.2 501.7L152.2 519.1M101.6 546.9L112.2 557.5M134.2 541.0L152.2 558.4M101.6 586.2L112.2 596.8M134.2 580.3L152.2 597.7M101.6 625.5L112.2 636.1M134.2 619.6L152.2 637.0M101.6 664.8L112.2 675.4M134.2 658.9L152.2 676.3M101.6 704.1L112.2 714.7" stroke-width="2.44" /></g><polygon points="101.6,346.2 174.6,255.6 174.6,622.8 101.6,714" stroke-width="2.2" stroke-linejoin="miter"/><path d="M149.2 451.1C151.5 450.8 158.6 450.7 162.8 449.1C167.0 447.6 170.4 444.3 174.6 441.8C178.8 439.3 184.0 435.9 188.2 434.0C192.3 432.1 197.6 430.8 199.5 430.1" stroke-width="5.90" stroke-linecap="butt"/><path d="M149.2 451.1C151.5 450.8 158.6 450.7 162.8 449.1C167.0 447.6 170.4 444.3 174.6 441.8C178.8 439.3 184.0 435.9 188.2 434.0C192.3 432.1 197.6 430.8 199.5 430.1" stroke="#fff" stroke-width="2.50" stroke-linecap="butt"/><path d="M146.5 451.4H151" stroke="#fff" stroke-width="6"/><path d="M152.5 416.1H205.5" stroke-width="1.38" /><path d="M160.5 416.1L164.5 413.90000000000003H175.5L177.5 412.70000000000005H181.5L183.5 414.1H190.5L193.5 416.1L190.5 418.1H183.5L181.5 419.5H177.5L175.5 418.3H164.5Z" fill="#161616" stroke="#161616" stroke-width="0.8"/><path d="M152.5 475.3H205.5" stroke-width="1.38" /><path d="M160.5 475.3L164.5 473.1H175.5L177.5 471.90000000000003H181.5L183.5 473.3H190.5L193.5 475.3L190.5 477.3H183.5L181.5 478.7H177.5L175.5 477.5H164.5Z" fill="#161616" stroke="#161616" stroke-width="0.8"/><path d="M205 403.4C196 405 196 488 203.5 489.7H222.5V403.4Z" stroke-width="2.25" fill="#fff"/><ellipse cx="220.6" cy="446.6" rx="6" ry="43.2" stroke-width="2.2" fill="#fff"/><path d="M215.3 425.4C217.8 425.4 225.5 425.1 230.0 425.2C234.5 425.3 237.4 425.1 242.3 426.0C247.2 426.9 253.7 428.6 259.3 430.5C264.9 432.4 270.6 435.4 276.2 437.3C281.8 439.2 287.6 441.1 293.1 442.0C298.6 442.9 306.4 442.3 309.0 442.4" stroke-width="5.90" stroke-linecap="butt"/><path d="M215.3 425.4C217.8 425.4 225.5 425.1 230.0 425.2C234.5 425.3 237.4 425.1 242.3 426.0C247.2 426.9 253.7 428.6 259.3 430.5C264.9 432.4 270.6 435.4 276.2 437.3C281.8 439.2 287.6 441.1 293.1 442.0C298.6 442.9 306.4 442.3 309.0 442.4" stroke="#fff" stroke-width="2.50" stroke-linecap="butt"/><ellipse cx="231" cy="446.6" rx="6.4" ry="43.2" stroke-width="2.2"/><path d="M220.6 403.4V489.8" stroke-width="0.01" /><path d="M249.4 414.6L255.4 412.70000000000005H277.4V416.5H255.4Z" stroke-width="1.75" fill="#fff"/><ellipse cx="280.4" cy="414.6" rx="2.6" ry="5" stroke-width="1.9" fill="#fff"/><path d="M249.4 476.2L255.4 474.3H277.4V478.09999999999997H255.4Z" stroke-width="1.75" fill="#fff"/><ellipse cx="280.4" cy="476.2" rx="2.6" ry="5" stroke-width="1.9" fill="#fff"/><path d="M296 401.0C287.5 403.6 285.4 410.6 285.4 415.6C285.4 420.6 287.5 427.6 296 430.20000000000005" stroke-width="2.12" /><path d="M296 400.6V406.6M296 430.6V424.6" stroke-width="2.38" stroke-linecap="butt"/><path d="M296 462.0C287.5 464.6 285.4 471.6 285.4 476.6C285.4 481.6 287.5 488.6 296 491.20000000000005" stroke-width="2.12" /><path d="M296 461.6V467.6M296 491.6V485.6" stroke-width="2.38" stroke-linecap="butt"/><path d="M306 440.5C313 441 318 445 322 452" stroke-width="3.25" /><path d="M307 443C313 444 321 449 326 455" stroke-width="3.25" /><path d="M309 441C318 442 330 450 336 462" stroke-width="3.25" /><path d="M314.8 454.6H326V477.6H314.8Z" stroke-width="2.00" fill="#fff"/><path d="M326 456.5H336L338.6 459V478.4H326Z" fill="#161616" stroke="#161616" stroke-width="1"/><rect x="329.4" y="460.6" width="3.6" height="4.6" fill="#fff" stroke="none"/><rect x="329.4" y="469.4" width="3.6" height="4.6" fill="#fff" stroke="none"/><path d="M316 477.6H337V481.5H319Z" fill="#161616" stroke="none"/><path d="M322.0 480.0C322.3 481.7 322.3 487.1 324.0 490.0C325.7 492.9 328.8 495.8 332.0 497.5C335.2 499.2 339.0 500.2 343.0 500.0C347.0 499.8 352.2 498.3 356.0 496.0C359.8 493.7 363.0 489.0 366.0 486.0C369.0 483.0 371.0 479.7 374.0 478.0C377.0 476.3 379.0 476.3 384.0 476.0C389.0 475.7 400.7 476.0 404.0 476.0" stroke-width="2.50" /><path d="M326.0 481.0C326.5 482.3 327.3 486.8 329.0 489.0C330.7 491.2 333.2 493.3 336.0 494.5C338.8 495.7 342.3 496.6 346.0 496.0C349.7 495.4 354.3 493.5 358.0 491.0C361.7 488.5 365.0 483.4 368.0 481.0C371.0 478.6 373.0 477.3 376.0 476.5C379.0 475.7 384.3 476.1 386.0 476.0" stroke-width="2.50" /><path d="M330.0 481.0C330.5 482.0 331.3 485.2 333.0 487.0C334.7 488.8 337.5 490.6 340.0 491.5C342.5 492.4 345.2 493.1 348.0 492.5C350.8 491.9 355.5 488.8 357.0 488.0" stroke-width="2.50" /><path d="M319.0 481.0C319.5 483.0 320.0 489.8 322.0 493.0C324.0 496.2 327.7 498.8 331.0 500.5C334.3 502.2 340.2 502.6 342.0 503.0" stroke-width="2.50" /><path d="M340.0 500.5C342.0 500.2 347.7 499.9 352.0 498.5C356.3 497.1 362.0 495.1 366.0 492.0C370.0 488.9 373.5 485.0 376.0 480.0C378.5 475.0 379.7 467.7 381.0 462.0C382.3 456.3 382.5 450.7 384.0 446.0C385.5 441.3 386.7 437.7 390.0 434.0C393.3 430.3 401.7 425.3 404.0 423.6" stroke-width="5.60" stroke-linecap="butt"/><path d="M340.0 500.5C342.0 500.2 347.7 499.9 352.0 498.5C356.3 497.1 362.0 495.1 366.0 492.0C370.0 488.9 373.5 485.0 376.0 480.0C378.5 475.0 379.7 467.7 381.0 462.0C382.3 456.3 382.5 450.7 384.0 446.0C385.5 441.3 386.7 437.7 390.0 434.0C393.3 430.3 401.7 425.3 404.0 423.6" stroke="#fff" stroke-width="2.00" stroke-linecap="butt"/><path d="M343 527.6H380" stroke-width="1.50" /><path d="M355 526.4H363" stroke-width="2.00" /><path d="M317.4 480L281.7 555.2M319.4 481L291.9 555.2" stroke-width="1.88" /><path d="M281.7 555.2H252.6Q248.8 555.2 248.8 559V597.7Q248.8 601.5 252.6 601.5H382.9Q386.7 601.5 386.7 597.7V559Q386.7 555.2 382.9 555.2H291.9" stroke-width="2.50" /><path d="M253.6 575.6H264.3V583.4H256Z" stroke-width="1.62" fill="#fff"/><rect x="264.3" y="577.2" width="5" height="4.6" fill="#161616" stroke="none"/><path d="M268.5 577.5C272 576 272 566 275 565.4H281.2" stroke="#4a2422" stroke-width="2.4"/><path d="M269 579.5H281.2" stroke="#5d6b1c" stroke-width="2.4"/><path d="M268.5 581.5C272 583 272 593 275 593.8H281.2" stroke="#222a48" stroke-width="2.4"/><text x="285" y="567" class="t" font-size="4.4" stroke="#111" stroke-width="0.35">Brown</text><text x="285" y="581.2" class="t" font-size="4.4" stroke="#111" stroke-width="0.35" textLength="20">Green/Yellow</text><text x="285" y="595" class="t" font-size="4.4" stroke="#111" stroke-width="0.35">Blue</text><text x="313" y="566.8" class="t" font-size="5" stroke="#111" stroke-width="0.4">L</text><text x="313" y="595" class="t" font-size="5" stroke="#111" stroke-width="0.4">N</text><circle cx="314.6" cy="579.5" r="4.6" stroke-width="1.5"/><path d="M314.6 576V580M312 580H317.2M312.8 581.6H316.4" stroke-width="0.9"/><text x="324.5" y="566.8" class="t" font-size="5" stroke="#111" stroke-width="0.4">#</text><text x="324.5" y="581" class="t" font-size="5" stroke="#111" stroke-width="0.4">#</text><text x="324.5" y="595" class="t" font-size="5" stroke="#111" stroke-width="0.4">#</text><rect x="333.6" y="562.6" width="22.6" height="8.4" fill="#161616" stroke="none"/><rect x="342" y="563.8000000000001" width="5.6" height="6" fill="#fff" stroke="none"/><rect x="333.6" y="574.4" width="22.6" height="8.4" fill="#161616" stroke="none"/><rect x="342" y="575.6" width="5.6" height="6" fill="#fff" stroke="none"/><rect x="333.6" y="587.4" width="22.6" height="8.4" fill="#161616" stroke="none"/><rect x="342" y="588.6" width="5.6" height="6" fill="#fff" stroke="none"/><circle cx="344.6" cy="572.6" r="2" fill="#fff" stroke-width="1"/><circle cx="344.6" cy="585.4" r="2" fill="#fff" stroke-width="1"/><path d="M356 564.6C363 564 363.5 566 364.5 570C365.5 575 367 577 370 577.4" stroke="#4a2422" stroke-width="2.2"/><path d="M356 579.2H370" stroke="#5d6b1c" stroke-width="2.4"/><path d="M356 592C363 592.5 363.5 590 364.5 587C365.5 583 367 581.4 370 581" stroke="#222a48" stroke-width="2.2"/><rect x="366.5" y="577" width="4.6" height="4.8" fill="#161616" stroke="none"/><path d="M371 575.2H382.8L380.6 583.4H371Z" stroke-width="1.62" fill="#fff"/><path d="M404.3 394.8H417V514.7H404.3Z" stroke-width="2.25" fill="#fff"/><path d="M417 398.3H419.4V512H417" stroke-width="1.25" /><path d="M421.2 401V509" stroke-width="1.12" /><path d="M404.3 423H417M404.3 485H417" stroke-width="1.75" /><path d="M210.4 330.6L190 330.6L172.1 415.3" stroke-width="1.50" /><text transform="translate(202.8 324) scale(0.74 1)" class="n" font-size="20" text-anchor="middle" stroke="#161616" stroke-width="0.9" stroke-linejoin="miter">1</text><path d="M303.3 330.6L282.3 330.6L265.2 411" stroke-width="1.50" /><text transform="translate(296 324) scale(0.74 1)" class="n" font-size="20" text-anchor="middle" stroke="#161616" stroke-width="0.9" stroke-linejoin="miter">2</text><path d="M377 330.4L356.4 330.4L327.6 448" stroke-width="1.50" /><text transform="translate(370.2 324) scale(0.74 1)" class="n" font-size="20" text-anchor="middle" stroke="#161616" stroke-width="0.9" stroke-linejoin="miter">3</text></g><use href="#roof" transform="translate(1195.6 344.9) scale(0.96)" /><g transform="translate(866.1 95.4) scale(0.96) translate(-174.6 -255.6)" ><g transform="translate(0 909.5) scale(1 -1)" ><path d="M517.5 450.5C516.5 450.7 513.9 450.8 511.2 451.9C508.5 453.0 504.8 454.5 501.3 456.9C497.8 459.2 493.8 462.6 490.0 466.0C486.2 469.4 482.5 473.1 478.7 477.3C474.9 481.5 470.7 488.1 467.4 491.4C464.1 494.7 462.1 495.7 459.0 497.1C455.9 498.5 452.4 499.7 449.1 499.9C445.8 500.1 442.2 499.7 439.2 498.5C436.1 497.3 433.1 495.2 430.8 492.8C428.5 490.4 426.4 486.9 425.1 484.4C423.8 481.8 423.0 479.8 422.8 477.5C422.6 475.2 422.8 472.8 423.7 470.7C424.6 468.6 425.9 466.6 428.0 464.6C430.1 462.7 433.3 460.3 436.4 459.0C439.4 457.7 443.0 456.7 446.3 456.9C449.6 457.1 453.7 458.4 456.2 460.4C458.7 462.4 460.5 465.8 461.1 468.9C461.7 471.9 461.0 476.1 459.7 478.7C458.4 481.3 455.8 483.4 453.3 484.4C450.8 485.3 447.2 485.3 444.9 484.4C442.5 483.4 440.3 480.8 439.2 478.7C438.1 476.6 438.0 473.7 438.5 471.7C439.0 469.7 440.6 467.8 442.1 466.7C443.6 465.6 445.9 465.1 447.7 465.3C449.4 465.6 451.7 466.8 452.6 468.2C453.5 469.6 453.8 472.4 453.3 473.8C452.8 475.2 451.0 476.4 449.8 476.6C448.6 476.8 446.6 475.3 446.0 475.0" stroke-width="4.40" stroke-linecap="butt"/><path d="M517.5 450.5C516.5 450.7 513.9 450.8 511.2 451.9C508.5 453.0 504.8 454.5 501.3 456.9C497.8 459.2 493.8 462.6 490.0 466.0C486.2 469.4 482.5 473.1 478.7 477.3C474.9 481.5 470.7 488.1 467.4 491.4C464.1 494.7 462.1 495.7 459.0 497.1C455.9 498.5 452.4 499.7 449.1 499.9C445.8 500.1 442.2 499.7 439.2 498.5C436.1 497.3 433.1 495.2 430.8 492.8C428.5 490.4 426.4 486.9 425.1 484.4C423.8 481.8 423.0 479.8 422.8 477.5C422.6 475.2 422.8 472.8 423.7 470.7C424.6 468.6 425.9 466.6 428.0 464.6C430.1 462.7 433.3 460.3 436.4 459.0C439.4 457.7 443.0 456.7 446.3 456.9C449.6 457.1 453.7 458.4 456.2 460.4C458.7 462.4 460.5 465.8 461.1 468.9C461.7 471.9 461.0 476.1 459.7 478.7C458.4 481.3 455.8 483.4 453.3 484.4C450.8 485.3 447.2 485.3 444.9 484.4C442.5 483.4 440.3 480.8 439.2 478.7C438.1 476.6 438.0 473.7 438.5 471.7C439.0 469.7 440.6 467.8 442.1 466.7C443.6 465.6 445.9 465.1 447.7 465.3C449.4 465.6 451.7 466.8 452.6 468.2C453.5 469.6 453.8 472.4 453.3 473.8C452.8 475.2 451.0 476.4 449.8 476.6C448.6 476.8 446.6 475.3 446.0 475.0" stroke="#fff" stroke-width="1.00" stroke-linecap="butt"/><path d="M519.6 450.5C521.0 450.6 525.3 450.4 528.1 451.2C530.9 452.0 534.6 453.5 536.6 455.5C538.6 457.5 540.0 460.7 540.1 463.2C540.2 465.7 538.7 468.8 537.3 470.3C535.9 471.8 533.2 472.6 531.6 472.4C530.0 472.2 528.0 470.3 527.4 468.9C526.8 467.5 527.3 465.0 528.1 463.9C528.9 462.8 531.3 462.2 532.3 462.5C533.3 462.8 533.9 465.1 534.2 465.6" stroke-width="4.40" stroke-linecap="butt"/><path d="M519.6 450.5C521.0 450.6 525.3 450.4 528.1 451.2C530.9 452.0 534.6 453.5 536.6 455.5C538.6 457.5 540.0 460.7 540.1 463.2C540.2 465.7 538.7 468.8 537.3 470.3C535.9 471.8 533.2 472.6 531.6 472.4C530.0 472.2 528.0 470.3 527.4 468.9C526.8 467.5 527.3 465.0 528.1 463.9C528.9 462.8 531.3 462.2 532.3 462.5C533.3 462.8 533.9 465.1 534.2 465.6" stroke="#fff" stroke-width="1.00" stroke-linecap="butt"/><path d="M420.9 472.6H429.2V477H420.9Z" stroke-width="1.75" fill="#fff"/><path d="M425 452L425 470M429 450.4C428 458 426 464 424 470M433 452L428 462" stroke-width="1.62" /><path d="M435.6 450.5V459H441.6V450.5" stroke-width="1.62" fill="#fff"/><rect x="427.2" y="447.6" width="3.4" height="3.2" fill="#161616" stroke="none"/><path d="M422.3 430.4L535.1 433.3V447.5L422.3 449.8Z" stroke-width="2.12" fill="#fff"/><path d="M422.3 440.4H535.1" stroke-width="1.75" /><path d="M535.1 436H537V434.6C541 434 542 435.2 542.4 436.5L554.2 440.4L542.4 444.4C542 445.8 541 447 537 446.4V445H535.1" stroke-width="1.88" fill="#fff"/><path d="M542.4 436.5V444.4M542.4 440.4H554" stroke-width="1.50" /><rect x="442.8" y="427.4" width="5.6" height="33" rx="2.6" stroke-width="1.5" fill="#fff"/><path d="M445.6 428V460" stroke-width="1.38" /><rect x="514.8" y="434.4" width="4.8" height="22" rx="2.2" stroke-width="1.4" fill="#fff"/><path d="M517.2 435V456" stroke-width="1.25" /></g></g><path d="M1079.7 178.2L1098.5 178.2L1108 262" stroke-width="1.50" /><text transform="translate(1093.6 172) scale(0.74 1)" class="n" font-size="19" text-anchor="middle" stroke="#161616" stroke-width="0.9" stroke-linejoin="miter">4</text><use href="#bulbi" transform="translate(1197.2 351.6) scale(0.955 -0.955)"/><g transform="translate(1197 364.6)" ><path d="M-14.1 -5.6A21 7.6 0 1 0 13.5 -5.8" stroke-width="3.38" stroke-linecap="butt"/><path d="M-18.5 -10.2L-8.7 -8.8L-14.7 -1.8Z" fill="#161616" stroke="none"/></g><path d="M1211.6 384.1L1314.6 374.5L1332.4 374.5" stroke-width="1.50" /><text transform="translate(1327.4 368.6) scale(0.74 1)" class="n" font-size="19" text-anchor="middle" stroke="#161616" stroke-width="0.9" stroke-linejoin="miter">5</text><path d="M1255.4 426.1L1302.8 415.9L1324 415.9" stroke-width="1.50" /><text transform="translate(1317.6 410) scale(0.74 1)" class="n" font-size="19" text-anchor="middle" stroke="#161616" stroke-width="0.9" stroke-linejoin="miter">6</text><use href="#lbody" transform="translate(1198.3 415.9) scale(0.957)" /><use href="#lcup" transform="translate(1198.3 415.9) scale(0.957)" /><use href="#lbaseF" transform="translate(1198.3 415.9) scale(0.957)" />
<clipPath id="ceilclip"><polygon points="48,973.8 245.8,973.8 301.8,1060.5 104,1060.5"/></clipPath><g clip-path="url(#ceilclip)"><path d="M62.1 973.8L118.1 1060.5M76.3 973.8L132.3 1060.5M90.4 973.8L146.4 1060.5M104.5 973.8L160.5 1060.5M118.6 973.8L174.6 1060.5M132.8 973.8L188.8 1060.5M146.9 973.8L202.9 1060.5M161.0 973.8L217.0 1060.5M175.2 973.8L231.2 1060.5M189.3 973.8L245.3 1060.5M203.4 973.8L259.4 1060.5M217.5 973.8L273.5 1060.5M231.7 973.8L287.7 1060.5" stroke-width="2.00" /><path d="M16.5 925.1l11.1 -5M30.2 946.3l11.1 -5M43.9 967.5l11.1 -5M57.6 988.7l11.1 -5M71.3 1009.9l11.1 -5M85.0 1031.1l11.1 -5M98.7 1052.3l11.1 -5M112.4 1073.5l11.1 -5M126.1 1094.7l11.1 -5M139.8 1115.9l11.1 -5M33.6 929.6l11.1 -5M47.3 950.8l11.1 -5M61.0 972.0l11.1 -5M74.7 993.2l11.1 -5M88.4 1014.4l11.1 -5M102.0 1035.6l11.1 -5M115.7 1056.8l11.1 -5M129.4 1078.0l11.1 -5M143.1 1099.2l11.1 -5M156.8 1120.4l11.1 -5M50.6 934.1l11.1 -5M64.3 955.3l11.1 -5M78.0 976.5l11.1 -5M91.7 997.7l11.1 -5M105.4 1018.9l11.1 -5M119.1 1040.1l11.1 -5M132.8 1061.3l11.1 -5M146.5 1082.5l11.1 -5M160.2 1103.7l11.1 -5M173.9 1124.9l11.1 -5M67.7 938.6l11.1 -5M81.4 959.8l11.1 -5M95.0 981.0l11.1 -5M108.7 1002.2l11.1 -5M122.4 1023.4l11.1 -5M136.1 1044.6l11.1 -5M149.8 1065.8l11.1 -5M163.5 1087.0l11.1 -5M177.2 1108.2l11.1 -5M190.9 1129.4l11.1 -5M84.7 943.1l11.1 -5M98.4 964.3l11.1 -5M112.1 985.5l11.1 -5M125.8 1006.7l11.1 -5M139.5 1027.9l11.1 -5M153.2 1049.1l11.1 -5M166.9 1070.3l11.1 -5M180.6 1091.5l11.1 -5M194.2 1112.7l11.1 -5M207.9 1133.9l11.1 -5M101.7 947.6l11.1 -5M115.4 968.8l11.1 -5M129.1 990.0l11.1 -5M142.8 1011.2l11.1 -5M156.5 1032.4l11.1 -5M170.2 1053.6l11.1 -5M183.9 1074.8l11.1 -5M197.6 1096.0l11.1 -5M211.3 1117.2l11.1 -5M225.0 1138.4l11.1 -5M118.8 952.1l11.1 -5M132.5 973.4l11.1 -5M146.2 994.5l11.1 -5M159.9 1015.8l11.1 -5M173.6 1037.0l11.1 -5M187.3 1058.2l11.1 -5M200.9 1079.3l11.1 -5M214.6 1100.5l11.1 -5M228.3 1121.8l11.1 -5M242.0 1143.0l11.1 -5M135.8 956.7l11.1 -5M149.5 977.9l11.1 -5M163.2 999.1l11.1 -5M176.9 1020.3l11.1 -5M190.6 1041.5l11.1 -5M204.3 1062.7l11.1 -5M218.0 1083.9l11.1 -5M231.7 1105.1l11.1 -5M245.4 1126.3l11.1 -5M259.1 1147.5l11.1 -5M152.9 961.2l11.1 -5M166.6 982.4l11.1 -5M180.3 1003.6l11.1 -5M194.0 1024.8l11.1 -5M207.6 1046.0l11.1 -5M221.3 1067.2l11.1 -5M235.0 1088.4l11.1 -5M248.7 1109.6l11.1 -5M262.4 1130.8l11.1 -5M276.1 1152.0l11.1 -5M169.9 965.7l11.1 -5M183.6 986.9l11.1 -5M197.3 1008.1l11.1 -5M211.0 1029.3l11.1 -5M224.7 1050.5l11.1 -5M238.4 1071.7l11.1 -5M252.1 1092.9l11.1 -5M265.8 1114.1l11.1 -5M279.5 1135.3l11.1 -5M293.2 1156.5l11.1 -5M187.0 970.2l11.1 -5M200.6 991.4l11.1 -5M214.3 1012.6l11.1 -5M228.0 1033.8l11.1 -5M241.7 1055.0l11.1 -5M255.4 1076.2l11.1 -5M269.1 1097.4l11.1 -5M282.8 1118.6l11.1 -5M296.5 1139.8l11.1 -5M310.2 1161.0l11.1 -5M204.0 974.7l11.1 -5M217.7 995.9l11.1 -5M231.4 1017.1l11.1 -5M245.1 1038.3l11.1 -5M258.8 1059.5l11.1 -5M272.5 1080.7l11.1 -5M286.2 1101.9l11.1 -5M299.8 1123.1l11.1 -5M313.5 1144.3l11.1 -5M327.2 1165.5l11.1 -5M221.0 979.2l11.1 -5M234.7 1000.4l11.1 -5M248.4 1021.6l11.1 -5M262.1 1042.8l11.1 -5M275.8 1064.0l11.1 -5M289.5 1085.2l11.1 -5M303.2 1106.4l11.1 -5M316.9 1127.6l11.1 -5M330.6 1148.8l11.1 -5M344.3 1170.0l11.1 -5M238.1 983.7l11.1 -5M251.8 1004.9l11.1 -5M265.5 1026.1l11.1 -5M279.2 1047.3l11.1 -5M292.9 1068.5l11.1 -5M306.5 1089.7l11.1 -5M320.2 1110.9l11.1 -5M333.9 1132.1l11.1 -5M347.6 1153.3l11.1 -5M361.3 1174.5l11.1 -5" stroke-width="2.00" /></g><polygon points="48,973.8 245.8,973.8 301.8,1060.5 104,1060.5" stroke-width="2.2" stroke-linejoin="miter"/><path d="M289.8 1041.5L300.8 1059.5" stroke-width="3.25" /><circle cx="180.2" cy="996" r="1.7" stroke-width="1.2" fill="#fff"/><circle cx="198.2" cy="1029.8" r="1.7" stroke-width="1.2" fill="#fff"/><path d="M188.0 1011.5C187.6 1013.6 186.2 1018.4 185.6 1024.0C185.0 1029.6 184.4 1033.0 184.2 1045.0C184.0 1057.0 184.1 1083.5 184.2 1096.0C184.3 1108.5 184.7 1112.3 185.0 1120.0C185.3 1127.7 185.7 1134.8 186.0 1142.0C186.3 1149.2 186.5 1159.5 186.6 1163.0" stroke-width="6.80" stroke-linecap="butt"/><path d="M188.0 1011.5C187.6 1013.6 186.2 1018.4 185.6 1024.0C185.0 1029.6 184.4 1033.0 184.2 1045.0C184.0 1057.0 184.1 1083.5 184.2 1096.0C184.3 1108.5 184.7 1112.3 185.0 1120.0C185.3 1127.7 185.7 1134.8 186.0 1142.0C186.3 1149.2 186.5 1159.5 186.6 1163.0" stroke="#fff" stroke-width="4.00" stroke-linecap="butt"/><path d="M186.6 1011.4C187.4 1009.4 189.4 1009.6 189.6 1011.6" stroke-width="1.62" /><path d="M174.4 1046L176 1043.6L177.6 1046V1064.4H174.4Z" fill="#fff" stroke-width="1.5"/><path d="M176 1047V1063" stroke-width="2.75" /><path d="M196.4 1087V1078.6L195.2 1076.6V1071.6H196.6L197.2 1066.4H199.4L200 1071.6H201.4V1076.6L200.2 1078.6V1087Z" stroke-width="1.62" fill="#fff"/><path d="M198.3 1069V1084" stroke-width="2.00" /><path d="M253.8 1129.2V1095.4H249L255.3 1085.6L261.6 1095.4H256.8V1129.2Z" fill="#161616" stroke="#161616" stroke-width="0.8"/><path d="M143.4 1104C143.4 1095.6 221.4 1095.6 221.4 1104V1115.6M143.4 1104L141.4 1115.6" stroke-width="2.12" /><path d="M141.2 1115.4C141.2 1129 222.2 1129 222.2 1115.4" stroke-width="2.8"/><path d="M141.2 1115.4C141.2 1108.4 222.2 1108.4 222.2 1115.4" stroke-width="1.75" /><rect x="181.2" y="1102" width="6" height="24" fill="#fff" stroke="none"/><path d="M184.2 1090.0C184.2 1091.0 184.1 1091.0 184.2 1096.0C184.3 1101.0 184.8 1114.0 185.0 1120.0C185.2 1126.0 185.5 1130.0 185.6 1132.0" stroke-width="6.80" stroke-linecap="butt"/><path d="M184.2 1090.0C184.2 1091.0 184.1 1091.0 184.2 1096.0C184.3 1101.0 184.8 1114.0 185.0 1120.0C185.2 1126.0 185.5 1130.0 185.6 1132.0" stroke="#fff" stroke-width="4.00" stroke-linecap="butt"/><path d="M171.7 1117.6V1138" stroke-width="3.75" stroke-linecap="butt"/><ellipse cx="171.7" cy="1139.4" rx="2.6" ry="1.7" fill="#fff" stroke-width="1.3"/><path d="M203.5 1117.6V1138" stroke-width="3.75" stroke-linecap="butt"/><ellipse cx="203.5" cy="1139.4" rx="2.6" ry="1.7" fill="#fff" stroke-width="1.3"/><path d="M161.0 1151.6C158.1 1146.6 163.6 1143.4 169.6 1143.4C175.6 1143.4 181.1 1146.6 178.2 1151.6" stroke-width="2.50" /><path d="M161.0 1151.6L164.2 1148.6M178.2 1151.6L175.0 1148.6" stroke-width="2.75" /><path d="M197.0 1152.6C194.1 1147.6 199.6 1144.4 205.6 1144.4C211.6 1144.4 217.1 1147.6 214.2 1152.6" stroke-width="2.50" /><path d="M197.0 1152.6L200.2 1149.6M214.2 1152.6L211.0 1149.6" stroke-width="2.75" /><path d="M185.6 1163.4L179.4 1195M187 1163.4L192.9 1195" stroke-width="3.38" /><path d="M188 1163.4L208.4 1195" stroke-width="3.75" /><rect x="173.9" y="1194.0" width="40.1" height="27.5" fill="#fff" stroke="none"/><rect x="173.9" y="1194.0" width="9.8" height="9.9" fill="#161616" stroke="none"/><path d="M176.7 1200.1L181.0 1197.6" stroke="#ddd" stroke-width="1.1"/><rect x="189.0" y="1194.0" width="9.8" height="9.9" fill="#161616" stroke="none"/><path d="M191.8 1200.1L196.1 1197.6" stroke="#ddd" stroke-width="1.1"/><rect x="204.2" y="1194.0" width="9.8" height="9.9" fill="#161616" stroke="none"/><path d="M206.9 1200.1L211.2 1197.6" stroke="#ddd" stroke-width="1.1"/><rect x="173.9" y="1211.6" width="9.8" height="9.9" fill="#161616" stroke="none"/><path d="M176.7 1217.7L181.0 1215.2" stroke="#ddd" stroke-width="1.1"/><rect x="189.0" y="1211.6" width="9.8" height="9.9" fill="#161616" stroke="none"/><path d="M191.8 1217.7L196.1 1215.2" stroke="#ddd" stroke-width="1.1"/><rect x="204.2" y="1211.6" width="9.8" height="9.9" fill="#161616" stroke="none"/><path d="M206.9 1217.7L211.2 1215.2" stroke="#ddd" stroke-width="1.1"/><path d="M174.7 1194.0V1221.5M213.2 1194.0V1221.5" stroke-width="1.8" stroke-linecap="butt"/><path d="M191.0 1203.9L197.0 1211.6M197.0 1203.9L191.0 1211.6" stroke-width="2.2"/><path d="M183.7 1203.3H204.2M183.7 1212.2H204.2" stroke-width="1.3"/><circle cx="186.4" cy="1207.8" r="2.6" fill="#fff" stroke-width="1.3"/><circle cx="201.5" cy="1207.8" r="2.6" fill="#fff" stroke-width="1.3"/><path d="M179.4 1221.5L193.4 1237.4M192.9 1221.5L194.4 1237.4M208.4 1221.5L195.4 1237.4" stroke-width="3.00" /><path d="M191.9 1237V1262M197.1 1237V1262" stroke-width="1.88" /><path d="M214 1205.6L280.7 1322.9M214 1209L280.7 1339.6" stroke-width="2.38" /><path d="M280.7 1322.9V1224.4Q280.7 1218.4 286.7 1218.4H339.9Q345.9 1218.4 345.9 1224.4V1381.2Q345.9 1387.2 339.9 1387.2H286.7Q280.7 1387.2 280.7 1381.2V1339.6" stroke-width="2.50" /><path d="M306.3 1235.3V1225L312.5 1222.6H315.4V1235.3Z" stroke-width="1.75" fill="#fff"/><path d="M309 1236C307 1242 296 1241 293.6 1245C292.4 1248 292.8 1253 292.8 1257.5" stroke="#3b6fc0" stroke-width="3.2"/><path d="M311.2 1235.6V1258" stroke="#a9d23e" stroke-width="3"/><path d="M313.6 1236C315 1242 323 1242 328 1245.5C329.6 1248 329.4 1253 329.4 1257.5" stroke="#a8402e" stroke-width="3.2"/><rect x="291.2" y="1257.5" width="3.2" height="8.6" fill="#161616" stroke="none"/><rect x="309.8" y="1257.5" width="3" height="24" fill="#161616" stroke="none"/><rect x="327.8" y="1257.5" width="3.2" height="10.5" fill="#161616" stroke="none"/><circle cx="310.6" cy="1305.3" r="5.4" fill="#161616" stroke="none"/><path d="M310.6 1300.5V1306.5M306.5 1306.5H310.6" stroke="#fff" stroke-width="1"/><text x="292" y="1307.6" class="t" font-size="6" stroke="none">L</text><text x="327.6" y="1307.6" class="t" font-size="6" stroke="none">N</text><text x="294.2" y="1319.6" class="t" font-size="6" text-anchor="middle" stroke="none">#</text><text x="310.6" y="1319.6" class="t" font-size="6" text-anchor="middle" stroke="none">#</text><text x="329.5" y="1319.6" class="t" font-size="6" text-anchor="middle" stroke="none">#</text><rect x="290.2" y="1325.5" width="42.3" height="27.4" fill="#fff" stroke="none"/><rect x="290.2" y="1325.5" width="10.4" height="9.9" fill="#161616" stroke="none"/><path d="M293.1 1331.6L297.7 1329.1" stroke="#ddd" stroke-width="1.1"/><rect x="306.2" y="1325.5" width="10.4" height="9.9" fill="#161616" stroke="none"/><path d="M309.1 1331.6L313.6 1329.1" stroke="#ddd" stroke-width="1.1"/><rect x="322.1" y="1325.5" width="10.4" height="9.9" fill="#161616" stroke="none"/><path d="M325.0 1331.6L329.6 1329.1" stroke="#ddd" stroke-width="1.1"/><rect x="290.2" y="1343.0" width="10.4" height="9.9" fill="#161616" stroke="none"/><path d="M293.1 1349.2L297.7 1346.6" stroke="#ddd" stroke-width="1.1"/><rect x="306.2" y="1343.0" width="10.4" height="9.9" fill="#161616" stroke="none"/><path d="M309.1 1349.2L313.6 1346.6" stroke="#ddd" stroke-width="1.1"/><rect x="322.1" y="1343.0" width="10.4" height="9.9" fill="#161616" stroke="none"/><path d="M325.0 1349.2L329.6 1346.6" stroke="#ddd" stroke-width="1.1"/><path d="M291.0 1325.5V1352.9M331.7 1325.5V1352.9" stroke-width="1.8" stroke-linecap="butt"/><path d="M308.4 1335.4L314.4 1343.0M314.4 1335.4L308.4 1343.0" stroke-width="2.2"/><path d="M300.6 1334.8H322.1M300.6 1343.6H322.1" stroke-width="1.3"/><circle cx="303.4" cy="1339.2" r="2.6" fill="#fff" stroke-width="1.3"/><circle cx="319.3" cy="1339.2" r="2.6" fill="#fff" stroke-width="1.3"/><path d="M294.6 1353C294.2 1359 297 1361 301 1362C306 1363 308 1366 309 1372" stroke="#3b6fc0" stroke-width="3.2"/><path d="M310.8 1353V1373" stroke="#a9d23e" stroke-width="3"/><path d="M326 1358C320 1360 315 1362 313 1372" stroke="#a8402e" stroke-width="3"/><path d="M329 1354C329 1358 327 1360 323 1361" stroke="#ddd" stroke-width="2.6"/><path d="M306.6 1387V1372.3H315.4V1387" stroke-width="1.88" fill="#fff"/><path d="M147.4 1262.2H239.4V1266H147.4Z" stroke-width="2.00" fill="#fff"/><path d="M150.4 1266C150.4 1273 151 1278.5 156 1278.5H231.4C236.4 1278.5 237 1273 237 1266" stroke-width="2.12" /><path d="M168.8 1278.6V1281H219.4V1278.6" stroke-width="1.62" /><path d="M177 1281.5C180 1288 184 1296 185.8 1303.5M208.7 1281.5C206 1288 204 1296 202.6 1303.5" stroke-width="2.00" /><ellipse cx="193.8" cy="1288.8" rx="8.6" ry="4.8" stroke-width="2.2"/><circle cx="193.8" cy="1291" r="1.8" fill="#161616" stroke="none"/><path d="M185.8 1303.5H202.6V1309.7H185.8Z" stroke-width="1.88" fill="#fff"/><path d="M189.3 1309.7V1316.7H199V1309.7" stroke-width="1.88" /><circle cx="194.3" cy="1330.8" r="18.2" stroke-width="1.7"/><circle cx="194.3" cy="1330.8" r="14.6" stroke-width="1.5"/><circle cx="194.3" cy="1383.7" r="18.2" stroke-width="1.7"/><circle cx="194.3" cy="1383.7" r="14.6" stroke-width="1.5"/><path d="M192.6 1317L197.4 1344M196 1317L200.4 1342" stroke-width="1.62" /><path d="M191.8 1344V1369M195.4 1344V1369M201.4 1346V1368" stroke-width="1.75" /><path d="M190 1344.6H200M190.4 1359.6H202.6M190.4 1361.4H202.6" stroke-width="2.00" /><path d="M193.4 1369L191.6 1400M197.6 1369L196 1400" stroke-width="1.62" /><path d="M189.3 1400.5V1408.4H199V1400.5" stroke-width="1.88" /><path d="M187 1410H201.4" stroke-width="3.00" /><path d="M179.6 1411.2H207V1415.6H179.6Z" stroke-width="1.75" /><use href="#roof" transform="translate(194.35 1448) scale(0.848)" /><use href="#bulbi" transform="translate(194.7 1454.4) scale(0.85 -0.85)"/><g transform="translate(195.1 1468.8)" ><path d="M-12.2 -4.6A18.3 6.2 0 1 0 11.8 -4.7" stroke-width="2.88" stroke-linecap="butt"/><path d="M-16.6 -9.2L-6.8 -7.8L-12.8 -0.8Z" fill="#161616" stroke="none"/></g><path d="M211.6 1477.4L297.9 1469.4L312.3 1469.4" stroke-width="1.50" /><text transform="translate(307.2 1464) scale(0.74 1)" class="n" font-size="17" text-anchor="middle" stroke="#161616" stroke-width="0.9" stroke-linejoin="miter">5</text><path d="M247.1 1518.9L287.7 1510.4L305.5 1510.4" stroke-width="1.50" /><text transform="translate(300.4 1504.6) scale(0.74 1)" class="n" font-size="17" text-anchor="middle" stroke="#161616" stroke-width="0.9" stroke-linejoin="miter">6</text><g transform="translate(195.7 1511.2) scale(0.852 0.835)" ><use href="#lbody"/><use href="#lcup"/><use href="#lbaseF"/></g><path d="M173.9 1065.8L73.4 1106L56.4 1106" stroke-width="1.50" /><text transform="translate(65 1099.8) scale(0.74 1)" class="n" font-size="17.5" text-anchor="middle" stroke="#161616" stroke-width="0.9" stroke-linejoin="miter">1</text><path d="M170.7 1136.9L74.4 1173.9L56.4 1173.9" stroke-width="1.50" /><text transform="translate(65 1168.8) scale(0.74 1)" class="n" font-size="17.5" text-anchor="middle" stroke="#161616" stroke-width="0.9" stroke-linejoin="miter">2</text><path d="M173.9 1207.8L74.4 1231.1L56.4 1231.1" stroke-width="1.50" /><text transform="translate(65 1225) scale(0.74 1)" class="n" font-size="17.5" text-anchor="middle" stroke="#161616" stroke-width="0.9" stroke-linejoin="miter">3</text><path d="M185.5 1290.3L75.5 1307.2L56.4 1307.2" stroke-width="1.50" /><text transform="translate(65.6 1302) scale(0.74 1)" class="n" font-size="17.5" text-anchor="middle" stroke="#161616" stroke-width="0.9" stroke-linejoin="miter">4</text>
<use href="#roof" transform="translate(519.8 1042.2)" /><use href="#acorn" transform="translate(519.8 1042.2)" /><use href="#bulb" transform="translate(519.6 1113.3)" /><g transform="translate(519.6 1102.6)" ><path d="M-14.7 -5.6A22 7.6 0 1 0 14.1 -5.8" stroke-width="3.38" stroke-linecap="butt"/><path d="M-19.1 -10.2L-9.3 -8.8L-15.3 -1.8Z" fill="#161616" stroke="none"/></g><use href="#lbody" transform="translate(519.8 1121.8)" /><use href="#lcup" transform="translate(519.8 1121.8)" /><use href="#lbaseB" transform="translate(519.8 1121.8)" /><path d="M532.8 1082.9L637.2 1072.2L658.3 1072.2" stroke-width="1.50" /><text transform="translate(651.6 1066.8) scale(0.74 1)" class="n" font-size="20" text-anchor="middle" stroke="#161616" stroke-width="0.9" stroke-linejoin="miter">4</text><path d="M580 1132.8L629.6 1121.8L649.9 1121.8" stroke-width="1.50" /><text transform="translate(643.1 1115.4) scale(0.74 1)" class="n" font-size="20" text-anchor="middle" stroke="#161616" stroke-width="0.9" stroke-linejoin="miter">5</text><path d="M506 1299C505.4 1330 500 1355 479.3 1389.6M533.8 1299C534.4 1330 540 1355 561 1389.6" stroke-width="2.12" /><path d="M506 1299H533.8" stroke-width="2.00" /><path d="M468.4 1390H571.2V1397.6H468.4Z" stroke-width="2.25" fill="#fff"/><path d="M468.4 1389.4H480.5M559.5 1389.4H571.2" stroke-width="3.50" stroke-linecap="butt"/><path d="M519.9 1299V1397.6" stroke-width="1.62" /><path d="M471.5 1361.4H477.9" stroke-width="2.50" stroke-linecap="butt"/><path d="M473.0 1361.4V1377.4L474.7 1381.9L476.4 1377.4V1361.4Z" fill="#161616" stroke="#161616" stroke-width="0.6"/><path d="M467.09999999999997 1355.0C466.2 1357.8000000000002 483.2 1357.8000000000002 482.3 1355.0" stroke-width="1.38" /><path d="M466.09999999999997 1353.8000000000002L467.3 1356.2L469.3 1354.4M483.3 1353.8000000000002L482.09999999999997 1356.2L480.09999999999997 1354.4" stroke-width="1.25" /><path d="M562.0999999999999 1361.4H568.5" stroke-width="2.50" stroke-linecap="butt"/><path d="M563.5999999999999 1361.4V1377.4L565.3 1381.9L567.0 1377.4V1361.4Z" fill="#161616" stroke="#161616" stroke-width="0.6"/><path d="M557.6999999999999 1355.0C556.8 1357.8000000000002 573.8 1357.8000000000002 572.9 1355.0" stroke-width="1.38" /><path d="M556.6999999999999 1353.8000000000002L557.9 1356.2L559.9 1354.4M573.9 1353.8000000000002L572.6999999999999 1356.2L570.6999999999999 1354.4" stroke-width="1.25" /><path d="M523.8 1397.8C523.8 1400.2 524.0 1408.0 523.9 1412.0C523.8 1416.0 523.5 1419.0 523.2 1422.0C523.0 1425.0 522.5 1428.7 522.4 1430.0" stroke-width="4.60" stroke-linecap="butt"/><path d="M523.8 1397.8C523.8 1400.2 524.0 1408.0 523.9 1412.0C523.8 1416.0 523.5 1419.0 523.2 1422.0C523.0 1425.0 522.5 1428.7 522.4 1430.0" stroke="#fff" stroke-width="1.80" stroke-linecap="butt"/><ellipse cx="517.9" cy="1432.6" rx="14.2" ry="6.6" stroke-width="1.8" fill="#fff"/><ellipse cx="517.9" cy="1430.2" rx="14.2" ry="6.6" stroke-width="1.8" fill="#fff"/><ellipse cx="518.4" cy="1430.6" rx="9.6" ry="3.6" stroke-width="1.3"/><ellipse cx="511.6" cy="1430.4" rx="3" ry="1.5" fill="#161616" stroke="none"/><path d="M523.6 1412.0C523.5 1413.7 523.4 1418.8 523.2 1422.0C523.0 1425.2 522.5 1429.5 522.4 1431.0" stroke-width="4.60" stroke-linecap="butt"/><path d="M523.6 1412.0C523.5 1413.7 523.4 1418.8 523.2 1422.0C523.0 1425.2 522.5 1429.5 522.4 1431.0" stroke="#fff" stroke-width="1.80" stroke-linecap="butt"/><path d="M522.9 1439.6C523.3 1440.5 524.3 1443.1 525.4 1445.0C526.5 1446.9 528.4 1448.9 529.6 1451.0C530.8 1453.1 532.1 1455.5 532.4 1457.7C532.7 1459.9 532.5 1462.5 531.6 1464.0C530.7 1465.5 527.8 1466.0 527.0 1466.4" stroke-width="4.60" stroke-linecap="butt"/><path d="M522.9 1439.6C523.3 1440.5 524.3 1443.1 525.4 1445.0C526.5 1446.9 528.4 1448.9 529.6 1451.0C530.8 1453.1 532.1 1455.5 532.4 1457.7C532.7 1459.9 532.5 1462.5 531.6 1464.0C530.7 1465.5 527.8 1466.0 527.0 1466.4" stroke="#fff" stroke-width="1.80" stroke-linecap="butt"/><path d="M510.4 1459.6L514.6 1456H527L523.6 1461.8Z" fill="#161616" stroke="#161616" stroke-width="1.2"/><path d="M508 1465.4L509.6 1461.2L523.6 1462.6L523 1471.2L508 1470.4Z" stroke-width="1.88" fill="#fff"/><path d="M523.6 1462.4L527.4 1457V1465.4L523 1471" stroke-width="1.75" /><path d="M474.7 1429.8V1474.8" stroke-width="1.50" /><path d="M473.09999999999997 1438.8H476.3L476.9 1442.8L480.09999999999997 1448.8L477.9 1450.8L481.7 1455.8L477.09999999999997 1458.8L476.09999999999997 1466.8H473.3L472.3 1458.8L467.7 1455.8L471.5 1450.8L469.3 1448.8L472.5 1442.8Z" fill="#161616" stroke="#161616" stroke-width="0.8"/><path d="M565.3 1429.8V1474.8" stroke-width="1.50" /><path d="M563.6999999999999 1438.8H566.9L567.5 1442.8L570.6999999999999 1448.8L568.5 1450.8L572.3 1455.8L567.6999999999999 1458.8L566.6999999999999 1466.8H563.9L562.9 1458.8L558.3 1455.8L562.0999999999999 1450.8L559.9 1448.8L563.0999999999999 1442.8Z" fill="#161616" stroke="#161616" stroke-width="0.8"/><path d="M503.5 1483.2V1545.6C503.5 1551.4 531.4 1551.4 531.4 1545.6V1483.2" stroke-width="2.25" fill="#fff"/><ellipse cx="517.45" cy="1483.2" rx="13.95" ry="5" stroke-width="1.8" fill="#fff"/><path d="M567.8 1368.4L663.4 1371.7" stroke-width="1.50" /><text transform="translate(657.5 1364.8) scale(0.74 1)" class="n" font-size="20" text-anchor="middle" stroke="#161616" stroke-width="0.9" stroke-linejoin="miter">3</text><path d="M570.3 1453L643.1 1440.6L664.3 1440.6" stroke-width="1.50" /><text transform="translate(657.4 1435) scale(0.74 1)" class="n" font-size="20" text-anchor="middle" stroke="#161616" stroke-width="0.9" stroke-linejoin="miter">1</text><path d="M531.4 1500.9L643.1 1513.2L664.3 1513.2" stroke-width="1.50" /><text transform="translate(657.5 1507) scale(0.74 1)" class="n" font-size="20" text-anchor="middle" stroke="#161616" stroke-width="0.9" stroke-linejoin="miter">2</text><path d="M403.2 1656.8V1579.4H634.3V1657.0" stroke-width="2.38" /><path d="M403.2 1656.8C410.0 1657.2 432.9 1657.2 443.9 1659.3C454.9 1661.4 460.3 1666.5 469.2 1669.5C478.1 1672.5 484.5 1676.5 497.2 1677.1C509.9 1677.7 531.0 1673.5 545.4 1673.3C559.8 1673.1 572.1 1675.4 583.5 1675.8C594.9 1676.2 606.0 1676.8 614.0 1675.8C622.0 1674.8 628.3 1672.6 631.7 1669.5C635.1 1666.4 633.9 1659.1 634.3 1657.0" stroke-width="2.38" /><path d="M478.5 1595.3h1.3M479.7 1596.4h1M526.9 1615.0h0.9M413.2 1621.3h0.9M414.4 1622.4h1M501.5 1657.5h1.0M502.7 1658.6h1M547.8 1668.6h1.3M627.3 1585.7h1.5M628.5 1586.8h1M437.6 1592.2h1.1M445.9 1634.9h1.3M529.6 1587.2h0.9M530.8 1588.3h1M559.8 1620.7h1.1M508.0 1609.0h1.5M460.4 1634.2h1.3M571.0 1607.9h1.6M572.2 1609.0h1M500.0 1651.1h1.0M413.6 1642.9h1.4M604.3 1610.3h1.4M536.9 1623.4h1.5M512.8 1642.5h0.9M592.1 1607.6h1.2M409.8 1623.9h1.0M411.0 1625.0h1M418.1 1652.1h1.0M419.3 1653.2h1M493.8 1661.6h0.9M530.0 1662.7h1.5M468.2 1619.6h1.1M623.1 1595.3h1.0M624.3 1596.4h1M457.9 1626.0h1.3M459.1 1627.1h1M405.6 1619.9h1.1M622.0 1644.9h1.3M558.9 1586.4h1.5M604.1 1654.8h1.2M428.3 1639.8h0.9M429.5 1640.9h1M452.3 1596.3h1.1M453.5 1597.4h1M404.8 1595.3h1.0M544.7 1595.1h1.1M545.9 1596.2h1M487.7 1592.7h1.5M510.9 1625.9h0.9M512.1 1627.0h1M482.8 1605.8h1.5M484.0 1606.9h1M525.1 1594.9h1.3M526.3 1596.0h1M525.1 1671.4h1.5M464.2 1615.1h1.0M526.1 1653.1h1.1M527.3 1654.2h1M589.7 1672.0h1.5M591.3 1649.5h1.0M485.8 1584.1h0.9M487.0 1585.2h1M463.8 1645.1h1.6M622.4 1614.9h1.0M623.6 1616.0h1M449.5 1600.2h1.3M596.3 1625.5h1.4M424.0 1642.2h1.5M575.7 1625.4h1.0M480.5 1655.1h1.6M496.2 1668.5h1.4M497.4 1669.6h1M433.7 1595.3h1.5M628.2 1641.9h1.1M434.6 1582.7h1.6M524.8 1667.3h1.2M593.1 1600.8h1.1M594.3 1601.9h1M459.5 1635.4h1.1M485.4 1623.6h1.3M500.6 1665.8h1.2M524.1 1583.1h1.2M525.3 1584.2h1M444.0 1625.0h1.4M479.0 1629.1h1.3M428.9 1632.9h1.1M430.1 1634.0h1M580.8 1628.1h1.3M612.7 1622.2h1.3M521.5 1645.1h1.2M513.7 1668.0h1.4M619.5 1605.3h1.3M596.2 1594.0h1.0M421.2 1603.5h0.9M583.4 1663.9h1.0M555.2 1594.6h1.5M495.5 1626.2h1.6M441.5 1621.1h1.3M442.7 1622.2h1M449.3 1610.7h1.4M450.5 1611.8h1M531.0 1621.9h0.9M532.2 1623.0h1M547.0 1628.5h0.9M584.4 1670.8h1.0M585.6 1671.9h1M413.7 1653.1h1.1M414.9 1654.2h1M501.0 1665.3h1.5M502.2 1666.4h1M534.8 1645.8h0.9M536.0 1646.9h1M561.6 1620.5h0.9M549.4 1655.1h0.9M508.2 1612.6h1.3M465.8 1593.3h1.3M467.0 1594.4h1M429.7 1596.3h0.9M430.9 1597.4h1M475.8 1609.5h1.4M477.0 1610.6h1M518.7 1597.8h1.1M519.9 1598.9h1M461.8 1582.8h1.4M447.9 1625.1h1.6M449.1 1626.2h1M591.4 1621.2h1.2M494.3 1628.0h1.4M482.8 1658.0h1.4M497.0 1613.4h0.9M498.2 1614.5h1M420.8 1649.6h1.1M422.0 1650.7h1M603.2 1643.1h1.1M604.4 1644.2h1M471.5 1623.7h1.0M626.5 1631.7h1.1M475.3 1614.2h0.9M512.9 1627.7h1.0M405.8 1605.7h0.9M414.2 1583.5h1.1M415.4 1584.6h1M538.2 1630.1h1.4M567.9 1662.3h1.2M569.1 1663.4h1M629.2 1595.2h1.4M608.1 1639.1h1.4M436.5 1629.6h1.2M588.2 1657.4h1.3M560.4 1645.2h1.0M561.6 1646.3h1M435.0 1614.6h1.0M532.0 1639.2h1.3M516.3 1581.7h1.5M519.4 1630.6h1.4M520.6 1631.7h1M572.7 1604.6h0.9M573.9 1605.7h1M571.0 1600.3h1.4M517.3 1616.6h1.2M579.6 1638.2h1.3M580.8 1639.3h1M438.3 1604.8h1.4M439.5 1605.9h1M534.1 1582.5h0.9M535.3 1583.6h1M557.9 1645.1h1.4M559.1 1646.2h1M522.5 1624.1h1.2M523.7 1625.2h1M608.5 1599.7h1.6M408.7 1623.6h1.5M507.2 1606.1h1.0M452.7 1634.9h1.0M621.9 1593.6h1.5M606.9 1646.1h1.0M515.5 1583.7h0.9M507.5 1609.2h1.0M508.7 1610.3h1M476.8 1658.7h0.9M596.0 1592.4h1.5M610.3 1608.1h1.1M632.4 1635.6h1.1M467.4 1585.8h1.0M461.5 1605.8h1.2M462.7 1606.9h1" stroke-width="1.15" stroke-linecap="butt" stroke="#222"/><path d="M410.6 1583.5L407.4 1588.6L410.6 1592.4Z" stroke-width="1.75" /><path d="M495.4 1656.2L489.8 1659.8L495.4 1662.6Z" stroke-width="1.75" /><path d="M615.8 1594.0L628.0 1591.0L616.4 1603.4Z" stroke-width="1.75" />
<g transform="translate(861.6 902.7) scale(0.738 0.73)" ><use href="#roof"/><use href="#acorn"/></g><path d="M952.1 873.5V890.4H949.8000000000001L953.2 898.4L956.6 890.4H954.3000000000001V873.5Z" fill="#161616" stroke="#161616" stroke-width="0.6"/><use href="#bulb" transform="translate(859.3 950.4) scale(0.73 0.68)"/><g transform="translate(859.3 944.6)" ><path d="M-10.5 -4.2A15.7 5.7 0 1 0 10.1 -4.4" stroke-width="3.25" stroke-linecap="butt"/><path d="M-14.9 -8.8L-5.1 -7.4L-11.1 -0.4Z" fill="#161616" stroke="none"/></g><path d="M871 932L947.5 925.2L959.5 925.2" stroke-width="1.75" /><text transform="translate(955 920.8) scale(0.74 1)" class="n" font-size="14" text-anchor="middle" stroke="#161616" stroke-width="0.9" stroke-linejoin="miter">7</text><path d="M905.5 967.2L941.5 960.8L955 960.8" stroke-width="1.75" /><text transform="translate(950.5 955.6) scale(0.74 1)" class="n" font-size="14" text-anchor="middle" stroke="#161616" stroke-width="0.9" stroke-linejoin="miter">8</text><g transform="translate(861.6 960.8) scale(0.738 0.722)" ><use href="#lbody"/><use href="#lcup"/><use href="#lheavy"/></g><path d="M853.6 1084.6H869.6V1087.4H853.6Z" stroke-width="1.75" /><path d="M876.2 1076L938.5 1063.7L949.7 1063.7" stroke-width="1.88" /><text transform="translate(944.5 1059.6) scale(0.74 1)" class="n" font-size="14" text-anchor="middle" stroke="#161616" stroke-width="0.9" stroke-linejoin="miter">6</text><path d="M861.7 1087.4V1111" stroke-width="4.50" stroke-linecap="butt"/><path d="M848 1097.4C835 1099.4 838 1106.4 861 1106.8C884 1106.4 888 1099.4 875 1097.4" stroke-width="1.88" /><path d="M872.6 1095.6L877.6 1097.8L873.8 1100.6" stroke-width="1.62" /><path d="M903.4000000000001 1079.7V1099.4H900.9000000000001L904.7 1108.4L908.5 1099.4H906.0V1079.7Z" fill="#161616" stroke="#161616" stroke-width="0.6"/><path d="M849.6 1111.6H875.2V1323.2H849.6Z" stroke-width="2.12" fill="#fff"/><path d="M875.2 1254.4L951.4 1236.8L967.4 1236.8" stroke-width="1.88" /><text transform="translate(962.6 1232) scale(0.74 1)" class="n" font-size="18" text-anchor="middle" stroke="#161616" stroke-width="0.9" stroke-linejoin="miter">5</text><ellipse cx="862.8" cy="1328" rx="22" ry="5.6" stroke-width="1.6" fill="#fff"/><path d="M849.6 1323.4H875.2V1326H849.6Z" fill="#161616" stroke="none"/><path d="M861 1327V1334" stroke-width="2.00" /><path d="M850.6 1334V1337.6M873 1334V1337.6" stroke-width="1.50" /><path d="M850.6 1337.6H873V1344H850.6Z" stroke-width="1.88" fill="#fff"/><path d="M849.6 1344V1541H875.4V1344" stroke-width="2.12" /><path d="M849.6 1344H875.4" stroke-width="1.62" /><path d="M849.6 1536.6H875.4" stroke-width="1.62" /><path d="M851.6 1478V1536" stroke-width="1.00" /><path d="M875.4 1475L951 1457.9L969 1457.9" stroke-width="1.88" /><text transform="translate(963.6 1453.6) scale(0.74 1)" class="n" font-size="17" text-anchor="middle" stroke="#161616" stroke-width="0.9" stroke-linejoin="miter">4</text><path d="M861 1541C861.6 1548 862.6 1554 862.5 1562" stroke-width="2.38" /><g transform="translate(862.5 1562) scale(0.806) translate(-519.9 -1299)" ><path d="M506 1299C505.4 1330 500 1355 479.3 1389.6M533.8 1299C534.4 1330 540 1355 561 1389.6" stroke-width="2.12" /><path d="M506 1299H533.8" stroke-width="2.00" /><path d="M468.4 1390H571.2V1397.6H468.4Z" stroke-width="2.25" fill="#fff"/><path d="M468.4 1389.4H480.5M559.5 1389.4H571.2" stroke-width="3.50" stroke-linecap="butt"/><path d="M519.9 1299V1397.6" stroke-width="1.62" /></g><path d="M835.2 1583.8C835.2 1581.0 839.8 1581.0 839.8 1583.8L839.1 1598.8L837.5 1604.3999999999999L835.9 1598.8Z" fill="#161616" stroke="#161616" stroke-width="0.8"/><path d="M831.5 1571.2C824.5 1572.2 825.5 1577.3999999999999 837.5 1577.6C849.5 1577.3999999999999 850.5 1572.2 843.5 1571.2" stroke-width="2.12" /><path d="M840.9 1569.3999999999999L844.9 1571.3999999999999L842.1 1574.3999999999999" stroke-width="1.88" /><path d="M887.8000000000001 1583.8C887.8000000000001 1581.0 892.4 1581.0 892.4 1583.8L891.7 1598.8L890.1 1604.3999999999999L888.5 1598.8Z" fill="#161616" stroke="#161616" stroke-width="0.8"/><path d="M884.1 1571.2C877.1 1572.2 878.1 1577.3999999999999 890.1 1577.6C902.1 1577.3999999999999 903.1 1572.2 896.1 1571.2" stroke-width="2.12" /><path d="M893.5 1569.3999999999999L897.5 1571.3999999999999L894.7 1574.3999999999999" stroke-width="1.88" /><g transform="translate(856.2 1562) scale(0.806) translate(-519.9 -1299)" ><path d="M523.8 1397.8C523.8 1400.2 524.0 1408.0 523.9 1412.0C523.8 1416.0 523.5 1419.0 523.2 1422.0C523.0 1425.0 522.5 1428.7 522.4 1430.0" stroke-width="4.60" stroke-linecap="butt"/><path d="M523.8 1397.8C523.8 1400.2 524.0 1408.0 523.9 1412.0C523.8 1416.0 523.5 1419.0 523.2 1422.0C523.0 1425.0 522.5 1428.7 522.4 1430.0" stroke="#fff" stroke-width="1.80" stroke-linecap="butt"/><ellipse cx="517.9" cy="1432.6" rx="14.2" ry="6.6" stroke-width="1.8" fill="#fff"/><ellipse cx="517.9" cy="1430.2" rx="14.2" ry="6.6" stroke-width="1.8" fill="#fff"/><ellipse cx="518.4" cy="1430.6" rx="9.6" ry="3.6" stroke-width="1.3"/><ellipse cx="511.6" cy="1430.4" rx="3" ry="1.5" fill="#161616" stroke="none"/><path d="M523.6 1412.0C523.5 1413.7 523.4 1418.8 523.2 1422.0C523.0 1425.2 522.5 1429.5 522.4 1431.0" stroke-width="4.60" stroke-linecap="butt"/><path d="M523.6 1412.0C523.5 1413.7 523.4 1418.8 523.2 1422.0C523.0 1425.2 522.5 1429.5 522.4 1431.0" stroke="#fff" stroke-width="1.80" stroke-linecap="butt"/><path d="M522.9 1439.6C523.3 1440.5 524.3 1443.1 525.4 1445.0C526.5 1446.9 528.4 1448.9 529.6 1451.0C530.8 1453.1 532.1 1455.5 532.4 1457.7C532.7 1459.9 532.5 1462.5 531.6 1464.0C530.7 1465.5 527.8 1466.0 527.0 1466.4" stroke-width="4.60" stroke-linecap="butt"/><path d="M522.9 1439.6C523.3 1440.5 524.3 1443.1 525.4 1445.0C526.5 1446.9 528.4 1448.9 529.6 1451.0C530.8 1453.1 532.1 1455.5 532.4 1457.7C532.7 1459.9 532.5 1462.5 531.6 1464.0C530.7 1465.5 527.8 1466.0 527.0 1466.4" stroke="#fff" stroke-width="1.80" stroke-linecap="butt"/><path d="M510.4 1459.6L514.6 1456H527L523.6 1461.8Z" fill="#161616" stroke="#161616" stroke-width="1.2"/><path d="M508 1465.4L509.6 1461.2L523.6 1462.6L523 1471.2L508 1470.4Z" stroke-width="1.88" fill="#fff"/><path d="M523.6 1462.4L527.4 1457V1465.4L523 1471" stroke-width="1.75" /><path d="M474.7 1429.8V1474.8" stroke-width="1.50" /><path d="M473.09999999999997 1438.8H476.3L476.9 1442.8L480.09999999999997 1448.8L477.9 1450.8L481.7 1455.8L477.09999999999997 1458.8L476.09999999999997 1466.8H473.3L472.3 1458.8L467.7 1455.8L471.5 1450.8L469.3 1448.8L472.5 1442.8Z" fill="#161616" stroke="#161616" stroke-width="0.8"/><path d="M565.3 1429.8V1474.8" stroke-width="1.50" /><path d="M563.6999999999999 1438.8H566.9L567.5 1442.8L570.6999999999999 1448.8L568.5 1450.8L572.3 1455.8L567.6999999999999 1458.8L566.6999999999999 1466.8H563.9L562.9 1458.8L558.3 1455.8L562.0999999999999 1450.8L559.9 1448.8L563.0999999999999 1442.8Z" fill="#161616" stroke="#161616" stroke-width="0.8"/><path d="M503.5 1483.2V1545.6C503.5 1551.4 531.4 1551.4 531.4 1545.6V1483.2" stroke-width="2.25" fill="#fff"/><ellipse cx="517.45" cy="1483.2" rx="13.95" ry="5" stroke-width="1.8" fill="#fff"/></g><path d="M861.4 1641.6C861 1650 858.6 1656 857.6 1662" stroke-width="2.00" /><path d="M854.1 1562H870.9V1568H854.1Z" stroke-width="1.75" fill="#fff"/><path d="M892.5 1595L942 1581.5L957 1581.5" stroke-width="1.75" /><text transform="translate(951 1577) scale(0.74 1)" class="n" font-size="14" text-anchor="middle" stroke="#161616" stroke-width="0.9" stroke-linejoin="miter">3</text><path d="M897 1686.5L954 1677.5L972 1677.5" stroke-width="1.75" /><text transform="translate(966.6 1673) scale(0.74 1)" class="n" font-size="14" text-anchor="middle" stroke="#161616" stroke-width="0.9" stroke-linejoin="miter">1</text><path d="M865.5 1725.5L954 1734.5L972 1734.5" stroke-width="1.75" /><text transform="translate(967.5 1730) scale(0.74 1)" class="n" font-size="14" text-anchor="middle" stroke="#161616" stroke-width="0.9" stroke-linejoin="miter">2</text><path d="M762.9 1849.9V1787.9H948.0V1850.1" stroke-width="2.38" /><path d="M762.9 1849.9C768.3 1850.2 786.7 1850.2 795.5 1851.9C804.3 1853.6 808.6 1857.7 815.8 1860.1C822.9 1862.4 828.0 1865.6 838.2 1866.2C848.4 1866.7 865.3 1863.3 876.8 1863.1C888.3 1862.9 898.2 1864.8 907.3 1865.1C916.5 1865.4 925.3 1866.0 931.7 1865.1C938.2 1864.3 943.2 1862.6 945.9 1860.1C948.6 1857.6 947.7 1851.7 948.0 1850.1" stroke-width="2.38" /><path d="M846.7 1830.8h1.5M856.8 1832.8h1.5M879.1 1847.9h1.5M890.7 1792.6h1.5M883.5 1834.9h1.5M885.1 1836.4h1.4M860.6 1793.9h1.5M862.2 1795.4h1.4M769.6 1823.7h1.5M858.9 1836.7h1.5M847.6 1810.0h1.5M917.5 1841.7h1.5M919.1 1843.2h1.4M816.9 1794.7h1.5M918.7 1818.0h1.5M764.2 1805.0h1.5M943.1 1818.8h1.5M906.3 1809.4h1.5M940.2 1845.4h1.5M941.8 1846.9h1.4M782.6 1793.9h1.5M784.2 1795.4h1.4M866.2 1822.5h1.5M788.0 1836.9h1.5M803.0 1809.4h1.5M819.6 1854.7h1.5M920.1 1836.8h1.5M803.0 1808.5h1.5M818.2 1794.9h1.5M808.5 1833.8h1.5M939.3 1825.1h1.5M797.5 1800.9h1.5M809.7 1803.5h1.5M925.2 1834.0h1.5M926.8 1835.5h1.4M807.6 1841.4h1.5M873.0 1811.1h1.5M776.7 1806.3h1.5M876.3 1810.2h1.5M877.9 1811.7h1.4M767.1 1809.3h1.5M768.7 1810.8h1.4M796.3 1816.7h1.5M797.9 1818.2h1.4M830.2 1855.2h1.5M890.3 1832.6h1.5M891.9 1834.1h1.4M892.1 1860.4h1.5M852.2 1843.3h1.5M777.8 1829.7h1.5M898.7 1841.4h1.5M828.4 1840.0h1.5M840.3 1847.8h1.5M878.2 1817.7h1.5M778.7 1836.6h1.5M897.1 1818.1h1.5M844.5 1851.3h1.5M769.5 1833.8h1.5M771.1 1835.3h1.4M891.6 1826.1h1.5M810.8 1790.3h1.5M801.1 1802.0h1.5M844.8 1855.2h1.5M800.4 1821.3h1.5M924.9 1817.8h1.5M789.0 1826.1h1.5M894.0 1859.5h1.5M895.6 1861.0h1.4M846.4 1809.8h1.5M878.4 1825.9h1.5M943.4 1822.8h1.5M945.0 1824.3h1.4M923.5 1792.6h1.5M820.5 1847.8h1.5M822.1 1849.3h1.4M847.2 1791.3h1.5M848.8 1792.8h1.4M789.8 1793.0h1.5M879.1 1837.8h1.5M889.1 1804.2h1.5M890.7 1805.7h1.4M766.1 1824.3h1.5M767.7 1825.8h1.4M813.8 1815.0h1.5M876.3 1845.2h1.5M929.6 1795.9h1.5M787.8 1822.9h1.5M832.9 1831.4h1.5" stroke-width="1.5" stroke-linecap="butt" stroke="#222"/><path d="M768.8 1791.2L766.3 1795.3L768.8 1798.3Z" stroke-width="1.75" /><path d="M836.7 1849.4L832.3 1852.3L836.7 1854.5Z" stroke-width="1.75" /><path d="M933.2 1799.6L943.0 1797.2L933.7 1807.1Z" stroke-width="1.75" />
<g transform="translate(1256 1123.2)" ><path d="M-9.8 -3.4H-64.5C-69.5 -3.4 -72.4 -1.6 -73.2 0C-72.4 1.6 -69.5 3.4 -64.5 3.4H-9.8" stroke-width="1.88" fill="#fff"/><path d="M-10 0H-64" stroke-width="1.25" /><rect x="-22.6" y="-5.6" width="3" height="11.6" rx="1.4" stroke-width="1.3" fill="#fff"/><rect x="-18.2" y="-4.8" width="2.6" height="10" rx="1.2" stroke-width="1.2" fill="#fff"/><path d="M-55.0 4.0C-53.8 4.3 -50.2 4.6 -48.0 5.6C-45.8 6.6 -44.0 7.9 -42.0 10.0C-40.0 12.1 -38.2 15.5 -36.0 18.0C-33.8 20.5 -31.5 23.4 -29.0 25.0C-26.5 26.6 -23.5 27.5 -21.0 27.6C-18.5 27.7 -15.8 26.6 -14.0 25.4C-12.2 24.2 -10.9 22.3 -10.4 20.4C-9.9 18.5 -10.1 15.8 -10.8 14.0C-11.5 12.2 -12.9 10.4 -14.4 9.4C-15.9 8.4 -18.2 7.8 -20.0 8.0C-21.8 8.2 -23.9 9.3 -25.0 10.6C-26.1 11.9 -26.8 14.4 -26.6 16.0C-26.4 17.6 -24.9 19.6 -23.6 20.4C-22.3 21.2 -19.9 21.2 -18.6 20.6C-17.3 20.0 -16.1 17.8 -16.0 16.6C-15.9 15.4 -17.7 14.1 -18.0 13.6" stroke-width="3.80" stroke-linecap="butt"/><path d="M-55.0 4.0C-53.8 4.3 -50.2 4.6 -48.0 5.6C-45.8 6.6 -44.0 7.9 -42.0 10.0C-40.0 12.1 -38.2 15.5 -36.0 18.0C-33.8 20.5 -31.5 23.4 -29.0 25.0C-26.5 26.6 -23.5 27.5 -21.0 27.6C-18.5 27.7 -15.8 26.6 -14.0 25.4C-12.2 24.2 -10.9 22.3 -10.4 20.4C-9.9 18.5 -10.1 15.8 -10.8 14.0C-11.5 12.2 -12.9 10.4 -14.4 9.4C-15.9 8.4 -18.2 7.8 -20.0 8.0C-21.8 8.2 -23.9 9.3 -25.0 10.6C-26.1 11.9 -26.8 14.4 -26.6 16.0C-26.4 17.6 -24.9 19.6 -23.6 20.4C-22.3 21.2 -19.9 21.2 -18.6 20.6C-17.3 20.0 -16.1 17.8 -16.0 16.6C-15.9 15.4 -17.7 14.1 -18.0 13.6" stroke="#fff" stroke-width="0.60" stroke-linecap="butt"/><path d="M-55.0 4.0C-55.8 4.1 -58.3 3.9 -60.0 4.4C-61.7 4.9 -63.8 5.8 -65.0 7.0C-66.2 8.2 -67.3 10.0 -67.4 11.6C-67.5 13.2 -66.7 15.5 -65.6 16.6C-64.5 17.7 -62.4 18.2 -61.0 18.0C-59.6 17.8 -57.9 16.5 -57.4 15.4C-56.9 14.3 -57.3 12.2 -58.0 11.4C-58.7 10.6 -60.8 10.7 -61.4 10.6" stroke-width="3.60" stroke-linecap="butt"/><path d="M-55.0 4.0C-55.8 4.1 -58.3 3.9 -60.0 4.4C-61.7 4.9 -63.8 5.8 -65.0 7.0C-66.2 8.2 -67.3 10.0 -67.4 11.6C-67.5 13.2 -66.7 15.5 -65.6 16.6C-64.5 17.7 -62.4 18.2 -61.0 18.0C-59.6 17.8 -57.9 16.5 -57.4 15.4C-56.9 14.3 -57.3 12.2 -58.0 11.4C-58.7 10.6 -60.8 10.7 -61.4 10.6" stroke="#fff" stroke-width="0.60" stroke-linecap="butt"/><g transform="scale(-1 1)" ><path d="M-9.8 -3.4H-64.5C-69.5 -3.4 -72.4 -1.6 -73.2 0C-72.4 1.6 -69.5 3.4 -64.5 3.4H-9.8" stroke-width="1.88" fill="#fff"/><path d="M-10 0H-64" stroke-width="1.25" /><rect x="-22.6" y="-5.6" width="3" height="11.6" rx="1.4" stroke-width="1.3" fill="#fff"/><rect x="-18.2" y="-4.8" width="2.6" height="10" rx="1.2" stroke-width="1.2" fill="#fff"/><path d="M-55.0 4.0C-53.8 4.3 -50.2 4.6 -48.0 5.6C-45.8 6.6 -44.0 7.9 -42.0 10.0C-40.0 12.1 -38.2 15.5 -36.0 18.0C-33.8 20.5 -31.5 23.4 -29.0 25.0C-26.5 26.6 -23.5 27.5 -21.0 27.6C-18.5 27.7 -15.8 26.6 -14.0 25.4C-12.2 24.2 -10.9 22.3 -10.4 20.4C-9.9 18.5 -10.1 15.8 -10.8 14.0C-11.5 12.2 -12.9 10.4 -14.4 9.4C-15.9 8.4 -18.2 7.8 -20.0 8.0C-21.8 8.2 -23.9 9.3 -25.0 10.6C-26.1 11.9 -26.8 14.4 -26.6 16.0C-26.4 17.6 -24.9 19.6 -23.6 20.4C-22.3 21.2 -19.9 21.2 -18.6 20.6C-17.3 20.0 -16.1 17.8 -16.0 16.6C-15.9 15.4 -17.7 14.1 -18.0 13.6" stroke-width="3.80" stroke-linecap="butt"/><path d="M-55.0 4.0C-53.8 4.3 -50.2 4.6 -48.0 5.6C-45.8 6.6 -44.0 7.9 -42.0 10.0C-40.0 12.1 -38.2 15.5 -36.0 18.0C-33.8 20.5 -31.5 23.4 -29.0 25.0C-26.5 26.6 -23.5 27.5 -21.0 27.6C-18.5 27.7 -15.8 26.6 -14.0 25.4C-12.2 24.2 -10.9 22.3 -10.4 20.4C-9.9 18.5 -10.1 15.8 -10.8 14.0C-11.5 12.2 -12.9 10.4 -14.4 9.4C-15.9 8.4 -18.2 7.8 -20.0 8.0C-21.8 8.2 -23.9 9.3 -25.0 10.6C-26.1 11.9 -26.8 14.4 -26.6 16.0C-26.4 17.6 -24.9 19.6 -23.6 20.4C-22.3 21.2 -19.9 21.2 -18.6 20.6C-17.3 20.0 -16.1 17.8 -16.0 16.6C-15.9 15.4 -17.7 14.1 -18.0 13.6" stroke="#fff" stroke-width="0.60" stroke-linecap="butt"/><path d="M-55.0 4.0C-55.8 4.1 -58.3 3.9 -60.0 4.4C-61.7 4.9 -63.8 5.8 -65.0 7.0C-66.2 8.2 -67.3 10.0 -67.4 11.6C-67.5 13.2 -66.7 15.5 -65.6 16.6C-64.5 17.7 -62.4 18.2 -61.0 18.0C-59.6 17.8 -57.9 16.5 -57.4 15.4C-56.9 14.3 -57.3 12.2 -58.0 11.4C-58.7 10.6 -60.8 10.7 -61.4 10.6" stroke-width="3.60" stroke-linecap="butt"/><path d="M-55.0 4.0C-55.8 4.1 -58.3 3.9 -60.0 4.4C-61.7 4.9 -63.8 5.8 -65.0 7.0C-66.2 8.2 -67.3 10.0 -67.4 11.6C-67.5 13.2 -66.7 15.5 -65.6 16.6C-64.5 17.7 -62.4 18.2 -61.0 18.0C-59.6 17.8 -57.9 16.5 -57.4 15.4C-56.9 14.3 -57.3 12.2 -58.0 11.4C-58.7 10.6 -60.8 10.7 -61.4 10.6" stroke="#fff" stroke-width="0.60" stroke-linecap="butt"/></g></g><path d="M1246.4 1099H1265.8V1153H1246.4Z" stroke-width="2.00" fill="#fff"/><path d="M1244.2 1110.8H1246.4M1265.8 1110.8H1267.8M1244.2 1110.8V1153H1267.8V1110.8" stroke-width="1.75" /><path d="M1248.6 1108.4H1263.6" stroke-width="1.50" /><path d="M1249 1153V1159.6M1262.4 1153V1159.6" stroke-width="1.88" /><path d="M1247.6 1156H1263.8" stroke-width="1.50" /><path d="M1246.3 1159.7H1264.1V1165.6H1246.3Z" stroke-width="1.88" fill="#fff"/><path d="M1246.3 1162.4H1264.1" stroke-width="1.38" /><path d="M1248.4 1167.4H1262.4" stroke-width="2.75" stroke="#777" stroke-linecap="butt"/><path d="M1248.8 1168.6V1323.6H1262.5V1168.6" stroke-width="2.00" /><path d="M1250.4 1170V1322" stroke-width="1.12" /><g transform="translate(1196.4 1036.70) scale(0.423 0.48)" ><use href="#lmain"/><use href="#lcup"/></g><g transform="translate(1196.4 1044.8) scale(0.415)" ><use href="#roof"/></g><path d="M1190.8000000000002 1028.9885V1026.5884999999998H1202.0V1028.9885" stroke-width="1.62" /><path d="M1193.6000000000001 1026.5884999999998V1022.7884999999999H1199.2V1026.5884999999998" stroke-width="1.75" fill="#fff"/><path d="M1193.4 1022.8C1188.0 1021.8 1187.8 1016.4 1190.4 1014.4C1190.0 1012.4 1191.8 1011.0 1192.8 1010.4C1193.8 1008.2 1195.2 1006.4 1196.4 1004.4C1197.6 1006.4 1199.0 1008.2 1200.0 1010.4C1201.0 1011.0 1202.8 1012.4 1202.4 1014.4C1205.0 1016.4 1204.8 1021.8 1199.4 1022.8Z" fill="#161616" stroke="#161616" stroke-width="0.8"/><g transform="translate(1255.4 1036.70) scale(0.423 0.48)" ><use href="#lmain"/><use href="#lcup"/></g><g transform="translate(1255.4 1044.8) scale(0.415)" ><use href="#roof"/></g><path d="M1249.8000000000002 1028.9885V1026.5884999999998H1261.0V1028.9885" stroke-width="1.62" /><path d="M1252.6000000000001 1026.5884999999998V1022.7884999999999H1258.2V1026.5884999999998" stroke-width="1.75" fill="#fff"/><path d="M1252.4 1022.8C1247.0 1021.8 1246.8 1016.4 1249.4 1014.4C1249.0 1012.4 1250.8 1011.0 1251.8 1010.4C1252.8 1008.2 1254.2 1006.4 1255.4 1004.4C1256.6 1006.4 1258.0 1008.2 1259.0 1010.4C1260.0 1011.0 1261.8 1012.4 1261.4 1014.4C1264.0 1016.4 1263.8 1021.8 1258.4 1022.8Z" fill="#161616" stroke="#161616" stroke-width="0.8"/><g transform="translate(1314 1035.90) scale(0.423 0.48)" ><use href="#lmain"/><use href="#lcup"/></g><path d="M1289.4 1042.0H1338.6" stroke-width="3.75" stroke-linecap="butt"/><path d="M1289.4 1042.0L1288.6 1045.4L1291 1047.4M1338.6 1042.0L1339.4 1045.4L1337 1047.4" stroke-width="2.50" /><path d="M1293 1043.4L1297 1045.4M1335 1043.4L1331 1045.4" stroke-width="1.50" /><path d="M1252.6 1086.6C1247.4 1085.6 1247.2 1080 1250.2 1078.4C1249.6 1076 1251 1074 1252.4 1073.6C1253.4 1071.6 1254.4 1070 1255.4 1068.4C1256.4 1070 1257.4 1071.6 1258.4 1073.6C1259.8 1074 1261.2 1076 1260.6 1078.4C1263.6 1080 1263.4 1085.6 1258.2 1086.6Z" fill="#161616" stroke="#161616" stroke-width="0.8"/><path d="M1253.2 1086.6V1090.4H1257.6V1086.6" stroke-width="1.62" fill="#fff"/><path d="M1250 1092.6H1261.6M1247.6 1095.4H1264" stroke-width="1.50" /><g transform="translate(1314.4 1009.1) scale(0.42)" ><use href="#roof"/></g><path d="M1310.7040000000002 993.0980000000001V991.5140000000001H1318.096V993.0980000000001" stroke-width="1.62" /><path d="M1312.5520000000001 991.5140000000001V989.0060000000001H1316.248V991.5140000000001" stroke-width="1.75" fill="#fff"/><path d="M1312.4 989.0C1308.9 988.3 1308.7 984.8 1310.4 983.5C1310.2 982.1 1311.4 981.2 1312.0 980.8C1312.7 979.4 1313.6 978.2 1314.4 976.9C1315.2 978.2 1316.1 979.4 1316.8 980.8C1317.4 981.2 1318.6 982.1 1318.4 983.5C1320.1 984.8 1319.9 988.3 1316.4 989.0Z" fill="#161616" stroke="#161616" stroke-width="0.8"/><path d="M1336.7 983.7V992.0H1335.2L1337.4 996.6L1339.6000000000001 992.0H1338.1000000000001V983.7Z" fill="#161616" stroke="#161616" stroke-width="0.6"/><use href="#bulb" transform="translate(1313.2 1035.6) scale(0.4 0.375)"/><ellipse cx="1313.2" cy="1033.4" rx="8.6" ry="3.4" stroke-width="2.4"/><rect x="1310.4" y="1026" width="5.6" height="6.4" fill="#fff" stroke="none"/><path d="M1310.6 1026V1032M1315.8 1026V1032" stroke-width="1.62" /><path d="M1320 1017.5L1365.7 1023.5L1377.5 1023.5" stroke-width="1.75" /><text transform="translate(1371.2 1021) scale(0.74 1)" class="n" font-size="14" text-anchor="middle" stroke="#161616" stroke-width="0.9" stroke-linejoin="miter">5</text><path d="M1338.6 1045.5L1386.8 1052.2L1398.7 1052.2" stroke-width="1.75" /><text transform="translate(1391 1050.6) scale(0.74 1)" class="n" font-size="14" text-anchor="middle" stroke="#161616" stroke-width="0.9" stroke-linejoin="miter">6</text><path d="M1280.4 1156.4C1275.4 1155.6 1274.6 1159 1274.6 1161.4C1274.6 1164 1275.4 1167.4 1280.4 1166.4" stroke-width="2.75" /><path d="M1266.6 1160.8H1274" stroke-width="1.50" /><path d="M1281.9 1160.7L1327 1167.1L1342.9 1167.1" stroke-width="1.75" /><text transform="translate(1334.9 1166) scale(0.74 1)" class="n" font-size="15" text-anchor="middle" stroke="#161616" stroke-width="0.9" stroke-linejoin="miter">4</text><g transform="translate(1086.5 1176.4) scale(0.747 0.86) translate(-248.8 -555.2)" ><path d="M281.7 555.2H252.6Q248.8 555.2 248.8 559V597.7Q248.8 601.5 252.6 601.5H382.9Q386.7 601.5 386.7 597.7V559Q386.7 555.2 382.9 555.2H291.9" stroke-width="2.50" /><path d="M253.6 575.6H264.3V583.4H256Z" stroke-width="1.62" fill="#fff"/><rect x="264.3" y="577.2" width="5" height="4.6" fill="#161616" stroke="none"/><path d="M268.5 577.5C272 576 272 566 275 565.4H281.2" stroke="#4a2422" stroke-width="2.4"/><path d="M269 579.5H281.2" stroke="#5d6b1c" stroke-width="2.4"/><path d="M268.5 581.5C272 583 272 593 275 593.8H281.2" stroke="#222a48" stroke-width="2.4"/><text x="285" y="567" class="t" font-size="4.4" stroke="#111" stroke-width="0.35">Brown</text><text x="285" y="581.2" class="t" font-size="4.4" stroke="#111" stroke-width="0.35" textLength="20">Green/Yellow</text><text x="285" y="595" class="t" font-size="4.4" stroke="#111" stroke-width="0.35">Blue</text><text x="313" y="566.8" class="t" font-size="5" stroke="#111" stroke-width="0.4">L</text><text x="313" y="595" class="t" font-size="5" stroke="#111" stroke-width="0.4">N</text><circle cx="314.6" cy="579.5" r="4.6" stroke-width="1.5"/><path d="M314.6 576V580M312 580H317.2M312.8 581.6H316.4" stroke-width="0.9"/><text x="324.5" y="566.8" class="t" font-size="5" stroke="#111" stroke-width="0.4">#</text><text x="324.5" y="581" class="t" font-size="5" stroke="#111" stroke-width="0.4">#</text><text x="324.5" y="595" class="t" font-size="5" stroke="#111" stroke-width="0.4">#</text><rect x="333.6" y="562.6" width="22.6" height="8.4" fill="#161616" stroke="none"/><rect x="342" y="563.8000000000001" width="5.6" height="6" fill="#fff" stroke="none"/><rect x="333.6" y="574.4" width="22.6" height="8.4" fill="#161616" stroke="none"/><rect x="342" y="575.6" width="5.6" height="6" fill="#fff" stroke="none"/><rect x="333.6" y="587.4" width="22.6" height="8.4" fill="#161616" stroke="none"/><rect x="342" y="588.6" width="5.6" height="6" fill="#fff" stroke="none"/><circle cx="344.6" cy="572.6" r="2" fill="#fff" stroke-width="1"/><circle cx="344.6" cy="585.4" r="2" fill="#fff" stroke-width="1"/><path d="M356 564.6C363 564 363.5 566 364.5 570C365.5 575 367 577 370 577.4" stroke="#4a2422" stroke-width="2.2"/><path d="M356 579.2H370" stroke="#5d6b1c" stroke-width="2.4"/><path d="M356 592C363 592.5 363.5 590 364.5 587C365.5 583 367 581.4 370 581" stroke="#222a48" stroke-width="2.2"/><rect x="366.5" y="577" width="4.6" height="4.8" fill="#161616" stroke="none"/><path d="M371 575.2H382.8L380.6 583.4H371Z" stroke-width="1.62" fill="#fff"/></g><path d="M1109 1176.4H1120" stroke-width="2.50" stroke-linecap="butt"/><path d="M1189.5 1195.2L1246.6 1164M1190.4 1198L1247.4 1165.6" stroke-width="2.12" /><path d="M1189.5 1215.1L1327 1199.9L1342.9 1199.9" stroke-width="1.75" /><text transform="translate(1334.4 1198.2) scale(0.74 1)" class="n" font-size="15" text-anchor="middle" stroke="#161616" stroke-width="0.9" stroke-linejoin="miter">3</text><path d="M1207.3999999999999 1316.6V1340.6H1204.3999999999999L1208.6 1348.6L1212.8 1340.6H1209.8V1316.6Z" fill="#161616" stroke="#161616" stroke-width="0.6"/><path d="M1250.1 1335.8C1248.6999999999998 1337.3999999999999 1249.5 1340.0 1251.6999999999998 1340.0C1253.1 1340.2 1253.6999999999998 1338.8 1254.1 1338.2L1254.3 1341.0H1255.8999999999999L1256.1 1338.2C1256.5 1338.8 1257.1 1340.2 1258.5 1340.0C1260.6999999999998 1340.0 1261.5 1337.3999999999999 1260.1 1335.8C1258.1 1335.0 1257.1 1335.3999999999999 1255.1 1336.8C1253.1 1335.3999999999999 1252.1 1335.0 1250.1 1335.8Z" fill="#161616" stroke="#161616" stroke-width="0.6"/><path d="M1236.4 1342.1C1235.0 1343.6999999999998 1235.8000000000002 1346.3 1238.0 1346.3C1239.4 1346.5 1240.0 1345.1 1240.4 1344.5L1240.6000000000001 1347.3H1242.2L1242.4 1344.5C1242.8000000000002 1345.1 1243.4 1346.5 1244.8000000000002 1346.3C1247.0 1346.3 1247.8000000000002 1343.6999999999998 1246.4 1342.1C1244.4 1341.3 1243.4 1341.6999999999998 1241.4 1343.1C1239.4 1341.6999999999998 1238.4 1341.3 1236.4 1342.1Z" fill="#161616" stroke="#161616" stroke-width="0.6"/><path d="M1262.8 1342.1C1261.3999999999999 1343.6999999999998 1262.2 1346.3 1264.3999999999999 1346.3C1265.8 1346.5 1266.3999999999999 1345.1 1266.8 1344.5L1267.0 1347.3H1268.6L1268.8 1344.5C1269.2 1345.1 1269.8 1346.5 1271.2 1346.3C1273.3999999999999 1346.3 1274.2 1343.6999999999998 1272.8 1342.1C1270.8 1341.3 1269.8 1341.6999999999998 1267.8 1343.1C1265.8 1341.6999999999998 1264.8 1341.3 1262.8 1342.1Z" fill="#161616" stroke="#161616" stroke-width="0.6"/><path d="M1273.1 1344.1L1323.9 1351.1L1337.6 1351.1" stroke-width="1.75" /><text transform="translate(1330.6 1350.4) scale(0.74 1)" class="n" font-size="15" text-anchor="middle" stroke="#161616" stroke-width="0.9" stroke-linejoin="miter">1</text><path d="M1247.7 1351.6V1348.4H1263.6V1351.6" stroke-width="1.75" /><path d="M1243.9 1352.6H1267.2L1266 1360H1245.1Z" stroke-width="2.00" fill="#fff"/><path d="M1245 1356H1266.2" stroke-width="1.38" /><path d="M1246.6 1361V1536.2M1264.4 1361V1536.2" stroke-width="2.12" /><path d="M1248.4 1362V1535" stroke-width="1.12" /><path d="M1211.1 1518.1V1542H1208.1L1212.3 1550L1216.5 1542H1213.5V1518.1Z" fill="#161616" stroke="#161616" stroke-width="0.6"/><path d="M1243.6 1536.4H1267.6" stroke-width="2.00" /><path d="M1235.6 1537.6H1276.1V1540.4H1235.6Z" fill="#161616" stroke="#161616" stroke-width="0.8"/><ellipse cx="1239" cy="1541.6" rx="3" ry="2" fill="#161616" stroke="none"/><ellipse cx="1248" cy="1541.6" rx="3" ry="2" fill="#161616" stroke="none"/><ellipse cx="1256" cy="1541.6" rx="3" ry="2" fill="#161616" stroke="none"/><ellipse cx="1264" cy="1541.6" rx="3" ry="2" fill="#161616" stroke="none"/><ellipse cx="1273" cy="1541.6" rx="3" ry="2" fill="#161616" stroke="none"/><path d="M1240.9 1543.4H1270.4V1547.6H1240.9Z" stroke-width="1.75" fill="#fff"/><path d="M1238 1550.4H1274.2V1553.9H1238Z" stroke-width="1.88" fill="#fff"/><path d="M1276.1 1540.9L1313.3 1503.8L1321.8 1503.8" stroke-width="1.88" /><text transform="translate(1317 1502.8) scale(0.74 1)" class="n" font-size="15" text-anchor="middle" stroke="#161616" stroke-width="0.9" stroke-linejoin="miter">2</text><path d="M1238 1561.6H1274.2V1564.8H1238Z" stroke-width="1.88" fill="#fff"/><path d="M1239 1564.8C1243 1569 1242 1578 1241 1582C1239.6 1585 1236 1585.6 1235.6 1588.5C1235.8 1591 1239 1592.4 1240 1594.2M1273.2 1564.8C1269.2 1569 1270.2 1578 1271.2 1582C1272.6 1585 1275 1585.6 1275.4 1588.5C1275.2 1591 1273.2 1592.4 1272.3 1594.2" stroke-width="2.12" /><path d="M1240.6 1582.6H1271.6M1236 1586.4H1275M1236.4 1590.6H1274.6M1240 1594.2H1272.3" stroke-width="1.62" /><path d="M1240 1594.2L1231.4 1670.4H1280.9L1272.3 1594.2" stroke-width="2.00" /><path d="M1240.6 1603L1233.6 1662M1271.8 1603L1279 1662" stroke-width="3.75" /><path d="M1243.1000000000001 1606C1243.1000000000001 1602.6 1247.7 1602.6 1247.7 1606L1246.1000000000001 1658C1246.1000000000001 1661.4 1241.5000000000002 1661.4 1241.5000000000002 1658Z" stroke-width="1.5"/><path d="M1253.9 1606C1253.9 1602.6 1258.5 1602.6 1258.5 1606L1258.5 1658C1258.5 1661.4 1253.9 1661.4 1253.9 1658Z" stroke-width="1.5"/><path d="M1264.7 1606C1264.7 1602.6 1269.3 1602.6 1269.3 1606L1270.8999999999999 1658C1270.8999999999999 1661.4 1266.3 1661.4 1266.3 1658Z" stroke-width="1.5"/><path d="M1222 1671.4H1292.3V1674.4H1222Z" fill="#161616" stroke="#161616" stroke-width="0.8"/><ellipse cx="1226" cy="1675.8" rx="3.4" ry="2.2" fill="#161616" stroke="none"/><ellipse cx="1236" cy="1675.8" rx="3.4" ry="2.2" fill="#161616" stroke="none"/><ellipse cx="1253" cy="1675.8" rx="3.4" ry="2.2" fill="#161616" stroke="none"/><ellipse cx="1262" cy="1675.8" rx="3.4" ry="2.2" fill="#161616" stroke="none"/><ellipse cx="1280" cy="1675.8" rx="3.4" ry="2.2" fill="#161616" stroke="none"/><ellipse cx="1289" cy="1675.8" rx="3.4" ry="2.2" fill="#161616" stroke="none"/><path d="M1283 1678C1281 1684 1280 1689 1288.6 1694.2" stroke-width="2.12" /><path d="M1220.3 1694.2H1291.9V1706.2H1220.3Z" stroke-width="2.25" /><path d="M1256.4 1694.2V1706.2" stroke-width="1.62" /><path d="M1240 1694.2H1291.9" stroke-width="1.25" /><path d="M1240.6 1679C1246 1683 1243 1692 1238 1697C1236 1700 1236 1704 1236.4 1706" stroke-width="1.88" /><path d="M1233 1679C1236 1684 1234 1690 1228 1694" stroke-width="3.25" /><path d="M1228 1694L1225.6 1704" stroke-width="3.75" /><path d="M1193.7 1631.4L1206.6 1631.4L1226.6 1674.2" stroke-width="1.88" /><text transform="translate(1198.6 1630.2) scale(0.74 1)" class="n" font-size="14.5" text-anchor="middle" stroke="#161616" stroke-width="0.9" stroke-linejoin="miter">7</text><path d="M1343.7 1643.4L1332.3 1643.4L1287.5 1672.7" stroke-width="1.88" /><text transform="translate(1338 1641.8) scale(0.74 1)" class="n" font-size="14.5" text-anchor="middle" stroke="#161616" stroke-width="0.9" stroke-linejoin="miter">8</text><path d="M1122.3 1644.1H1175.8Q1183.8 1644.1 1183.8 1652.1V1686.2Q1183.8 1694.2 1175.8 1694.2H1122.3Q1114.3 1694.2 1114.3 1686.2V1652.1Q1114.3 1644.1 1122.3 1644.1Z" stroke-width="2.38" /><path d="M1114.3 1668.4H1131" stroke-width="9.00" stroke-linecap="butt"/><path d="M1130 1668.4C1136 1666 1132 1656 1139 1655.4M1130 1668.4C1136 1671 1132 1680 1139 1680.6" stroke-width="3.25" /><path d="M1138.4 1653.4H1163.4V1683.4H1138.4" stroke-width="2.00" /><rect x="1141" y="1654.6" width="7.4" height="7.6" fill="#161616" stroke="none"/><rect x="1155.6" y="1654.6" width="7.4" height="7.6" fill="#161616" stroke="none"/><rect x="1141" y="1674.4" width="7.4" height="7.6" fill="#161616" stroke="none"/><rect x="1155.6" y="1674.4" width="7.4" height="7.6" fill="#161616" stroke="none"/><path d="M1138.4 1663.4H1163.4M1138.4 1673.2H1163.4" stroke-width="1.50" /><circle cx="1150.6" cy="1663.4" r="1.9" fill="#fff" stroke-width="1.1"/><circle cx="1150.6" cy="1672.6" r="1.9" fill="#fff" stroke-width="1.1"/><circle cx="1173.2" cy="1668.4" r="5.4" fill="#161616" stroke="none"/><text x="1170.6" y="1659.6" class="n" font-size="8.5" stroke="none">L</text><text x="1170" y="1684.6" class="n" font-size="8.5" stroke="none">N</text><path d="M1177 1664L1231 1686M1174 1672.6L1229 1688" stroke-width="2.75" /><g transform="translate(1211.9 1755.7)" ><path d="M0.0 32.6V0.0H97.2V32.6" stroke-width="2.38" /><path d="M0.0 32.6C2.9 32.7 12.5 32.7 17.1 33.6C21.7 34.5 24.0 36.6 27.8 37.9C31.5 39.1 34.2 40.8 39.5 41.1C44.9 41.4 53.8 39.6 59.8 39.5C65.9 39.4 71.0 40.4 75.8 40.5C80.6 40.7 85.3 41.0 88.7 40.5C92.0 40.1 94.7 39.2 96.1 37.9C97.5 36.6 97.0 33.5 97.2 32.6" stroke-width="2.38" /><path d="M60.4 29.5h1.5M71.6 36.5h1.5M91.1 26.0h1.5M92.7 27.5h1.4M45.6 10.4h1.5M1.9 9.2h1.5M74.1 7.0h1.5M75.7 8.5h1.4M59.8 5.7h1.5M20.7 9.2h1.5M52.3 27.1h1.5M66.9 38.2h1.5M35.3 7.3h1.5M36.9 8.8h1.4M29.5 24.2h1.5M33.0 12.8h1.5M30.9 19.5h1.5M32.5 21.0h1.4M94.1 1.7h1.5M2.4 31.3h1.5M1.5 2.6h1.5M19.5 30.1h1.5M33.7 14.6h1.5M11.0 29.8h1.5M9.4 14.0h1.5M33.2 36.6h1.5M31.0 7.7h1.5M32.6 9.2h1.4M16.1 2.7h1.5M39.6 10.0h1.5M44.3 17.2h1.5M3.8 19.9h1.5M5.4 21.4h1.4M70.8 37.6h1.5M10.9 17.7h1.5M28.9 18.4h1.5M94.2 18.4h1.5M46.6 12.1h1.5M48.2 13.6h1.4M92.7 25.1h1.5M9.2 11.4h1.5M35.3 31.3h1.5M64.3 30.2h1.5M27.6 19.6h1.5M62.9 23.3h1.5M24.7 26.8h1.5M62.7 31.7h1.5M71.4 32.9h1.5M84.1 27.5h1.5M50.3 21.3h1.5M90.5 19.3h1.5M70.7 7.5h1.5M64.5 17.1h1.5M61.7 28.7h1.5M63.3 30.2h1.4M42.9 26.0h1.5M61.1 2.5h1.5M62.7 4.0h1.4M5.8 6.0h1.5M7.4 7.5h1.4M19.2 2.2h1.5M59.3 23.7h1.5M0.7 16.5h1.5M36.5 2.2h1.5M38.1 3.7h1.4M52.9 14.0h1.5M79.1 17.1h1.5M36.1 6.3h1.5M59.0 14.4h1.5M60.6 15.9h1.4M11.0 22.7h1.5M12.6 24.2h1.4M61.0 35.3h1.5M22.3 12.1h1.5M92.8 36.2h1.5M94.7 20.0h1.5" stroke-width="1.5" stroke-linecap="butt" stroke="#222"/><path d="M3.1 1.7L1.8 3.9L3.1 5.5Z" stroke-width="1.75" /><path d="M38.8 32.3L36.4 33.8L38.8 35.0Z" stroke-width="1.75" /><path d="M89.4 6.1L94.6 4.9L89.7 10.1Z" stroke-width="1.75" /></g><path d="M1229.2 1739.5V1781.6H1241.3V1778.6H1232.3999999999999V1739.5Z" stroke-width="1.88" fill="#fff"/><path d="M1230.8 1778.4H1240.8" stroke-width="3.25" stroke-linecap="butt"/><path d="M1256.2 1739.5V1781.6H1268.3V1778.6H1259.3999999999999V1739.5Z" stroke-width="1.88" fill="#fff"/><path d="M1257.8 1778.4H1267.8" stroke-width="3.25" stroke-linecap="butt"/><path d="M1283.2 1739.5V1781.6H1295.3V1778.6H1286.3999999999999V1739.5Z" stroke-width="1.88" fill="#fff"/><path d="M1284.8 1778.4H1294.8" stroke-width="3.25" stroke-linecap="butt"/><path d="M1225.4 1753.8H1290.2" stroke-width="1.88" /><path d="M1267.4 1754.2C1267.3 1753.1 1267.8 1749.7 1266.9 1747.4C1266.0 1745.1 1264.2 1742.7 1262.0 1740.6C1259.8 1738.5 1256.3 1737.1 1254.0 1735.0C1251.7 1732.9 1248.7 1730.4 1247.9 1728.2C1247.1 1726.0 1248.4 1723.6 1249.4 1722.0C1250.4 1720.4 1253.2 1719.0 1254.0 1718.4" stroke-width="3.75" />
</g>
</svg>
</body></html>
